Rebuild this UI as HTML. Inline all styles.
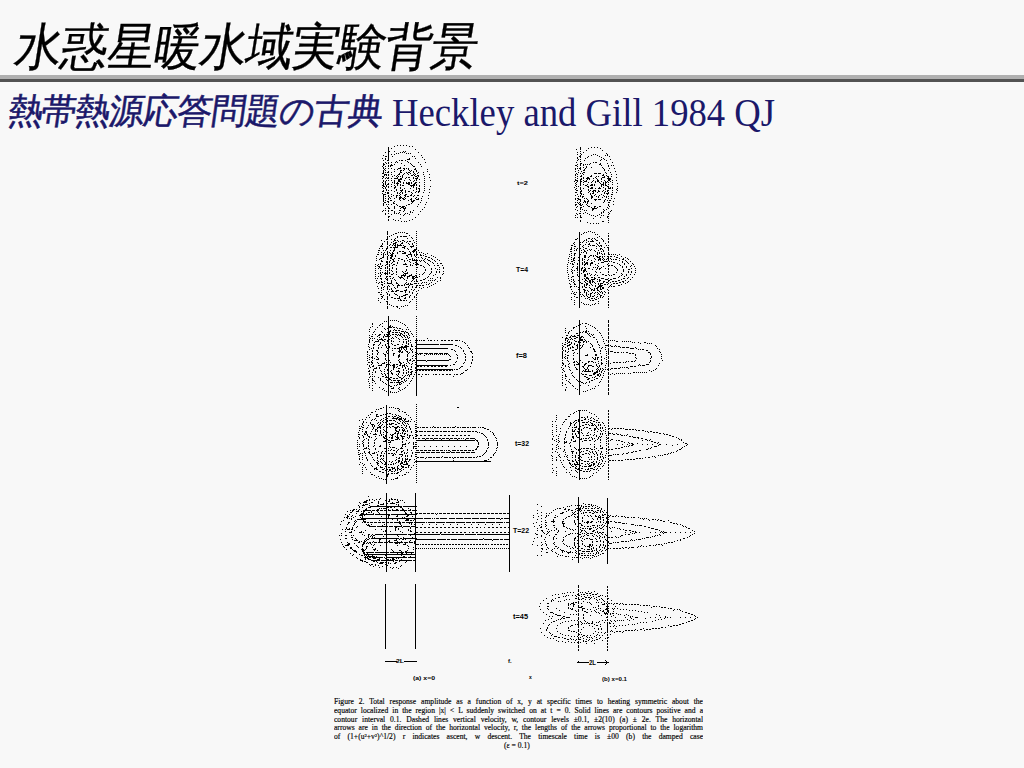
<!DOCTYPE html>
<html><head><meta charset="utf-8"><style>
html,body{margin:0;padding:0;}
body{width:1024px;height:768px;background:#f8f8f8;position:relative;overflow:hidden;font-family:"Liberation Serif",serif;}
#title{position:absolute;left:13px;top:18px;font-size:47px;line-height:60px;color:#000;white-space:nowrap;letter-spacing:-0.8px;transform-origin:0 47px;transform:skewX(-9deg) scaleY(1.07);-webkit-text-stroke:0.3px #000;}
#bar1{position:absolute;left:0;top:75px;width:1024px;height:4px;background:#b0b0b0;}
#bar2{position:absolute;left:0;top:79px;width:1024px;height:3px;background:#535353;}
#sub{position:absolute;left:5px;top:90px;font-size:35px;line-height:44px;color:#1b186a;white-space:nowrap;letter-spacing:-1.1px;transform-origin:0 100%;transform:skewX(-8deg);-webkit-text-stroke:0.55px #1b186a;}
#en{position:absolute;left:392px;top:92px;font-size:36.7px;line-height:44px;color:#1b186a;white-space:nowrap;transform-origin:0 80%;transform:scaleY(1.08);}
#cap{position:absolute;left:334px;top:698px;width:369px;font-family:"Liberation Serif",serif;font-size:7.6px;line-height:8.8px;color:#000;font-weight:normal;-webkit-text-stroke:0.15px #000;}
#cap div{height:8.8px;overflow:hidden;text-align:justify;text-align-last:justify;white-space:normal;}
#cap div.l6{text-align:left;text-align-last:left;padding-left:170px;}
</style></head><body>
<div id="title">水惑星暖水域実験背景</div>
<div id="bar1"></div><div id="bar2"></div>
<div id="sub">熱帯熱源応答問題の古典</div><div id="en">Heckley and Gill 1984 QJ</div>
<svg width="1024" height="768" style="position:absolute;left:0;top:0"><path transform="translate(0 0.5)" fill="none" stroke="#000" stroke-width="1" shape-rendering="crispEdges" d="M397 145h1M400 145h1M403 145h1M406 145h1M394 146h1M409 146h1M412 146h1M388 147h1M580 147h1M591 147h1M594 147h1M597 147h1M388 148h1M391 148h1M580 148h1M588 148h1M600 148h1M388 149h1M415 149h1M576 149h1M580 149h1M388 150h1M586 150h1M602 150h1M388 151h2M394 151h1M403 151h1M405 151h1M580 151h1M385 152h1M388 152h1M400 152h1M402 152h1M404 152h1M418 152h1M577 152h1M583 152h1M388 153h1M396 153h1M398 153h1M406 153h1M408 153h1M410 153h1M580 153h1M606 153h1M388 154h1M391 154h1M394 154h1M577 154h1M581 154h1M593 154h1M595 154h1M607 154h1M383 155h1M388 155h1M421 155h1M580 155h1M591 155h1M597 155h1M605 155h1M607 155h1M385 156h2M388 156h1M392 156h1M412 156h1M414 156h1M579 156h2M588 156h1M599 156h1M609 156h1M388 157h1M422 157h1M577 157h1M580 157h1M587 157h1M601 157h1M382 158h1M385 158h1M388 158h1M409 158h1M415 158h1M577 158h1M585 158h1M603 158h1M385 159h1M388 159h1M407 159h3M424 159h1M578 159h1M580 159h1M601 159h1M604 159h1M610 159h1M383 160h1M387 160h2M399 160h1M401 160h2M405 160h1M577 160h1M584 160h1M600 160h1M606 160h1M396 161h1M407 161h1M580 161h1M385 162h1M388 162h1M391 162h1M395 162h1M397 162h1M408 162h1M418 162h1M425 162h1M576 162h1M593 162h1M595 162h2M612 162h1M383 163h1M386 163h1M388 163h1M401 163h1M410 163h1M580 163h2M590 163h1M600 163h1M607 163h1M383 164h2M391 164h1M394 164h1M411 164h1M420 164h1M577 164h1M580 164h1M583 164h1M585 164h1M587 164h1M589 164h1M599 164h2M383 165h1M388 165h1M390 165h3M404 165h1M412 165h1M575 165h2M580 165h1M583 165h1M601 165h1M608 165h1M611 165h1M613 165h1M382 166h1M385 166h1M388 166h1M390 166h1M413 166h2M421 166h1M577 166h1M586 166h1M608 166h1M383 167h1M400 167h1M580 167h1M583 167h1M586 167h1M591 167h1M602 167h1M383 168h1M385 168h1M388 168h1M391 168h1M398 168h3M403 168h2M406 168h1M408 168h1M415 168h1M575 168h1M577 168h1M579 168h2M585 168h1M603 168h1M609 168h1M614 168h1M384 169h1M394 169h1M397 169h1M404 169h1M408 169h1M414 169h2M427 169h1M575 169h1M580 169h1M584 169h1M604 169h1M383 170h1M385 170h1M400 170h2M403 170h1M409 170h1M411 170h1M416 170h1M578 170h1M583 170h2M604 170h1M608 170h1M383 171h1M388 171h1M394 171h1M400 171h1M410 171h1M413 171h1M416 171h1M427 171h1M575 171h1M581 171h1M615 171h1M383 172h1M385 172h1M387 172h2M391 172h1M400 172h2M406 172h1M408 172h2M413 172h1M418 172h1M423 172h1M578 172h1M583 172h2M605 172h1M610 172h1M382 173h2M399 173h1M404 173h1M407 173h1M410 173h1M414 173h1M417 173h1M576 173h1M580 173h1M582 173h1M594 173h3M598 173h3M606 173h1M384 174h3M388 174h1M391 174h1M398 174h2M403 174h1M408 174h1M413 174h1M415 174h1M423 174h1M429 174h1M575 174h1M577 174h1M583 174h1M603 174h1M611 174h1M616 174h1M384 175h1M386 175h1M388 175h1M394 175h1M397 175h1M402 175h1M411 175h2M414 175h1M417 175h2M575 175h1M581 175h1M591 175h1M602 175h2M606 175h1M382 176h2M392 176h1M396 176h1M398 176h1M400 176h1M402 176h1M415 176h2M418 176h1M424 176h1M577 176h1M580 176h2M590 176h2M596 176h1M598 176h1M604 176h1M607 176h2M611 176h1M383 177h1M386 177h1M388 177h1M397 177h1M402 177h1M406 177h1M408 177h2M413 177h1M417 177h1M429 177h1M575 177h1M583 177h1M587 177h2M595 177h1M602 177h3M608 177h1M616 177h1M382 178h1M385 178h1M387 178h2M391 178h1M394 178h4M400 178h2M405 178h1M413 178h1M415 178h3M424 178h1M577 178h1M581 178h1M583 178h1M586 178h4M593 178h1M596 178h1M601 178h1M607 178h4M398 179h4M409 179h1M416 179h1M419 179h1M575 179h1M580 179h2M587 179h1M589 179h1M597 179h1M601 179h1M608 179h3M383 180h1M386 180h1M388 180h1M391 180h1M394 180h1M398 180h2M404 180h1M410 180h1M414 180h1M416 180h1M424 180h1M430 180h1M575 180h3M580 180h1M583 180h1M586 180h1M593 180h1M597 180h2M604 180h1M608 180h2M612 180h1M616 180h1M383 181h1M385 181h1M394 181h1M398 181h3M413 181h1M574 181h1M577 181h1M580 181h2M584 181h3M592 181h1M595 181h1M597 181h2M601 181h1M605 181h1M607 181h1M610 181h1M382 182h1M385 182h1M392 182h1M394 182h1M397 182h1M400 182h1M403 182h1M406 182h1M408 182h2M411 182h1M415 182h2M419 182h1M424 182h1M576 182h1M580 182h1M583 182h1M588 182h1M591 182h1M595 182h1M599 182h1M603 182h1M605 182h2M608 182h1M612 182h1M383 183h1M385 183h1M388 183h1M394 183h1M396 183h3M403 183h1M406 183h4M411 183h1M414 183h2M575 183h1M580 183h1M600 183h1M603 183h1M605 183h1M617 183h1M383 184h1M385 184h1M387 184h2M391 184h1M397 184h1M400 184h1M408 184h2M413 184h2M416 184h1M424 184h1M576 184h1M580 184h1M583 184h1M587 184h1M591 184h2M594 184h1M601 184h3M605 184h1M608 184h1M612 184h1M382 185h2M386 185h1M394 185h1M397 185h1M400 185h1M402 185h2M410 185h5M416 185h1M419 185h1M575 185h1M580 185h1M585 185h2M590 185h3M594 185h1M601 185h1M603 185h1M605 185h2M383 186h2M386 186h1M388 186h1M391 186h1M395 186h1M411 186h1M413 186h1M419 186h1M424 186h1M430 186h1M576 186h1M578 186h1M587 186h2M601 186h1M607 186h2M617 186h1M382 187h1M385 187h1M388 187h1M394 187h2M400 187h1M413 187h1M416 187h1M574 187h1M580 187h1M588 187h1M591 187h2M599 187h1M603 187h1M608 187h1M610 187h1M612 187h1M383 188h1M385 188h1M394 188h1M400 188h1M404 188h1M410 188h1M416 188h1M418 188h2M424 188h1M576 188h1M580 188h1M583 188h1M590 188h3M595 188h1M598 188h3M605 188h1M608 188h3M612 188h1M617 188h1M386 189h1M396 189h1M402 189h1M416 189h1M419 189h1M429 189h1M575 189h1M580 189h1M588 189h1M605 189h1M616 189h1M383 190h1M386 190h1M388 190h1M391 190h1M396 190h1M400 190h3M405 190h1M413 190h1M419 190h1M424 190h1M576 190h2M581 190h1M588 190h1M590 190h1M593 190h3M598 190h1M603 190h1M607 190h2M612 190h1M617 190h1M382 191h2M394 191h1M401 191h1M405 191h1M408 191h2M416 191h1M418 191h2M580 191h2M589 191h1M592 191h2M595 191h1M598 191h2M602 191h1M605 191h1M607 191h1M385 192h1M387 192h2M397 192h1M400 192h1M402 192h1M405 192h1M411 192h1M415 192h1M418 192h1M423 192h1M429 192h1M575 192h2M580 192h1M588 192h1M593 192h1M597 192h1M604 192h1M608 192h1M612 192h1M616 192h1M382 193h1M387 193h2M397 193h1M399 193h1M402 193h1M412 193h1M580 193h2M590 193h1M592 193h2M604 193h1M606 193h3M383 194h3M391 194h1M400 194h1M405 194h2M411 194h1M577 194h1M581 194h1M583 194h1M590 194h1M595 194h1M601 194h1M607 194h1M611 194h2M383 195h1M388 195h1M393 195h1M396 195h2M399 195h1M404 195h2M410 195h2M414 195h1M417 195h2M428 195h1M575 195h1M580 195h1M591 195h1M594 195h1M599 195h1M603 195h1M383 196h1M385 196h1M388 196h1M391 196h1M396 196h1M400 196h1M405 196h1M407 196h2M413 196h1M422 196h1M578 196h1M580 196h1M582 196h2M591 196h2M596 196h1M598 196h1M604 196h1M606 196h1M608 196h1M611 196h1M383 197h1M389 197h1M396 197h1M399 197h3M404 197h1M416 197h1M582 197h1M591 197h2M598 197h1M602 197h1M606 197h1M383 198h1M385 198h1M388 198h1M390 198h1M394 198h1M399 198h2M402 198h2M405 198h1M411 198h1M415 198h1M418 198h1M421 198h1M428 198h1M575 198h1M577 198h2M584 198h1M586 198h1M591 198h1M608 198h1M611 198h1M614 198h1M383 199h1M388 199h1M399 199h1M403 199h2M410 199h2M416 199h3M575 199h1M578 199h3M587 199h1M594 199h3M598 199h3M605 199h1M383 200h1M385 200h1M390 200h2M400 200h1M408 200h1M411 200h1M413 200h2M421 200h1M577 200h1M580 200h1M584 200h1M588 200h1M595 200h1M604 200h1M607 200h1M609 200h2M383 201h1M387 201h2M394 201h1M411 201h3M580 201h1M584 201h2M587 201h2M604 201h1M613 201h1M384 202h2M388 202h1M393 202h1M412 202h1M420 202h1M426 202h1M575 202h1M577 202h1M579 202h1M583 202h1M585 202h1M587 202h1M603 202h1M608 202h2M383 203h1M393 203h2M411 203h1M578 203h1M580 203h1M587 203h1M591 203h1M383 204h1M386 204h1M388 204h1M391 204h1M396 204h1M408 204h2M418 204h1M425 204h1M575 204h2M579 204h2M582 204h1M586 204h1M608 204h1M613 204h1M383 205h1M397 205h1M406 205h1M575 205h1M580 205h2M587 205h1M608 205h1M387 206h1M394 206h1M399 206h2M402 206h3M417 206h1M577 206h1M583 206h1M588 206h2M594 206h2M599 206h2M609 206h1M388 207h1M394 207h1M401 207h3M405 207h1M424 207h1M576 207h1M580 207h2M591 207h1M594 207h1M597 207h1M607 207h1M385 208h1M388 208h2M394 208h1M400 208h1M403 208h3M580 208h1M592 208h5M608 208h1M404 209h1M422 209h1M575 209h1M580 209h1M582 209h1M592 209h2M603 209h1M606 209h1M383 210h1M385 210h1M388 210h1M391 210h2M399 210h2M404 210h1M413 210h1M577 210h1M584 210h1M586 210h1M592 210h1M604 210h1M611 210h1M382 211h1M388 211h1M394 211h1M403 211h1M410 211h1M420 211h1M580 211h1M603 211h1M610 211h1M394 212h1M399 212h1M410 212h1M412 212h1M585 212h1M601 212h1M603 212h1M608 212h1M385 213h1M388 213h1M394 213h1M396 213h1M398 213h1M405 213h1M407 213h1M576 213h1M579 213h2M583 213h1M587 213h1M601 213h1M609 213h1M385 214h1M391 214h1M400 214h1M404 214h1M409 214h1M418 214h1M577 214h1M589 214h1M599 214h1M608 214h1M403 215h1M575 215h1M580 215h1M591 215h1M593 215h1M597 215h1M601 215h1M603 215h1M388 216h2M580 216h1M595 216h1M607 216h2M388 217h1M415 217h1M575 217h1M577 217h1M580 217h2M600 217h1M607 217h1M400 218h1M593 218h1M608 218h1M388 219h1M393 219h1M412 219h1M388 220h1M395 220h1M398 220h1M409 220h1M580 220h1M608 220h1M401 221h1M404 221h1M406 221h1M580 221h1M602 221h2M587 222h1M608 222h1M590 223h1M593 223h1M596 223h1M598 223h1M387 231h1M416 231h1M588 231h1M590 231h1M387 232h1M398 232h1M400 232h1M402 232h1M404 232h1M579 232h1M584 232h1M586 232h1M592 232h1M594 232h1M387 233h1M395 233h2M406 233h2M416 233h1M579 233h1M583 233h1M608 233h1M387 234h1M393 234h1M579 234h1M581 234h1M595 234h1M597 234h1M391 235h1M409 235h1M416 235h1M579 235h1M608 235h1M387 236h1M389 236h1M397 236h1M400 236h2M403 236h4M579 236h1M599 236h1M608 236h1M387 237h1M397 237h1M411 237h1M416 237h1M579 237h1M597 237h1M387 238h1M395 238h1M407 238h1M412 238h1M577 238h1M579 238h1M588 238h2M592 238h1M594 238h1M601 238h1M608 238h1M386 239h2M391 239h1M394 239h1M416 239h1M575 239h2M579 239h1M586 239h1M591 239h1M595 239h1M602 239h1M608 239h1M381 240h1M394 240h2M397 240h1M402 240h2M413 240h1M579 240h1M584 240h1M586 240h1M592 240h1M596 240h2M603 240h1M384 241h1M387 241h1M393 241h1M398 241h1M400 241h1M404 241h1M407 241h1M409 241h2M416 241h1M579 241h1M583 241h1M588 241h1M590 241h4M603 241h1M608 241h1M387 242h1M391 242h1M395 242h2M402 242h1M406 242h1M414 242h1M574 242h1M579 242h2M582 242h1M586 242h1M599 242h1M608 242h1M382 243h1M387 243h1M393 243h3M401 243h2M408 243h1M412 243h1M416 243h1M573 243h1M579 243h1M589 243h1M596 243h1M599 243h1M605 243h1M382 244h1M387 244h1M390 244h1M393 244h1M395 244h1M397 244h1M400 244h1M409 244h1M412 244h1M574 244h1M579 244h2M585 244h1M588 244h2M597 244h1M381 245h1M389 245h1M392 245h1M394 245h2M397 245h5M403 245h1M413 245h1M416 245h1M571 245h2M579 245h1M583 245h1M590 245h1M592 245h3M598 245h1M600 245h2M606 245h1M608 245h1M380 246h3M387 246h1M395 246h1M397 246h1M404 246h2M410 246h4M574 246h2M579 246h1M582 246h1M588 246h1M596 246h1M599 246h1M601 246h1M387 247h1M390 247h2M393 247h5M402 247h3M411 247h1M416 247h1M571 247h1M579 247h1M583 247h1M604 247h1M607 247h2M379 248h1M382 248h1M386 248h2M394 248h1M404 248h1M407 248h1M416 248h1M571 248h1M574 248h1M577 248h1M579 248h2M585 248h2M596 248h1M600 248h2M608 248h1M386 249h1M394 249h1M408 249h1M414 249h3M570 249h2M576 249h1M579 249h1M583 249h1M589 249h1M591 249h1M600 249h1M602 249h1M608 249h1M378 250h2M383 250h1M385 250h1M390 250h1M393 250h2M413 250h3M418 250h1M574 250h1M576 250h1M579 250h1M581 250h1M584 250h1M587 250h1M590 250h1M594 250h1M598 250h1M603 250h1M608 250h1M387 251h1M393 251h1M399 251h2M402 251h2M409 251h1M412 251h3M416 251h1M570 251h2M579 251h1M584 251h2M595 251h1M601 251h1M603 251h1M378 252h1M381 252h1M384 252h1M387 252h1M389 252h1M392 252h1M397 252h1M404 252h2M410 252h1M413 252h1M416 252h1M419 252h1M421 252h1M579 252h1M581 252h1M583 252h1M586 252h1M597 252h1M599 252h1M608 252h1M383 253h1M387 253h1M390 253h1M392 253h2M397 253h1M402 253h4M410 253h1M416 253h1M423 253h1M427 253h1M571 253h1M574 253h2M579 253h1M586 253h1M597 253h1M599 253h1M601 253h1M604 253h1M608 253h1M377 254h2M381 254h1M383 254h1M385 254h1M387 254h1M391 254h2M408 254h4M414 254h1M416 254h2M420 254h1M425 254h1M569 254h1M574 254h1M579 254h2M597 254h1M602 254h1M604 254h1M608 254h2M611 254h1M613 254h1M615 254h1M619 254h1M383 255h1M388 255h1M390 255h3M395 255h1M406 255h2M411 255h1M414 255h1M416 255h1M420 255h2M423 255h1M431 255h1M571 255h1M574 255h1M579 255h1M584 255h2M590 255h2M593 255h1M595 255h1M617 255h1M376 256h1M383 256h1M387 256h1M391 256h2M395 256h1M407 256h1M411 256h1M415 256h1M425 256h2M433 256h1M569 256h1M579 256h1M584 256h2M589 256h1M593 256h1M596 256h2M599 256h2M602 256h1M604 256h1M607 256h2M610 256h2M614 256h1M621 256h1M382 257h2M387 257h1M390 257h2M408 257h1M416 257h1M418 257h1M421 257h1M428 257h2M435 257h1M571 257h1M574 257h1M578 257h2M584 257h2M588 257h1M597 257h3M602 257h1M608 257h1M616 257h2M625 257h1M376 258h1M380 258h2M387 258h1M390 258h2M394 258h1M398 258h2M406 258h1M412 258h1M422 258h1M425 258h1M431 258h1M568 258h1M573 258h2M579 258h1M582 258h1M594 258h1M599 258h2M603 258h1M607 258h2M610 258h1M619 258h1M623 258h1M627 258h1M379 259h1M387 259h1M392 259h2M401 259h2M409 259h2M412 259h1M414 259h1M416 259h1M424 259h1M427 259h1M432 259h1M437 259h1M571 259h1M573 259h1M579 259h1M582 259h1M584 259h1M588 259h1M595 259h1M598 259h3M602 259h1M604 259h1M606 259h1M608 259h1M611 259h1M613 259h1M615 259h2M622 259h2M628 259h1M376 260h1M381 260h1M390 260h1M393 260h1M398 260h1M404 260h1M407 260h1M412 260h6M419 260h1M421 260h1M423 260h1M428 260h2M434 260h1M439 260h1M568 260h1M573 260h2M578 260h2M582 260h1M587 260h1M591 260h1M598 260h1M600 260h1M603 260h1M608 260h1M619 260h1M625 260h1M381 261h2M386 261h2M389 261h1M393 261h2M404 261h1M409 261h1M416 261h1M420 261h1M424 261h1M430 261h1M435 261h1M571 261h2M579 261h1M584 261h1M594 261h1M604 261h4M609 261h1M611 261h1M622 261h1M626 261h1M630 261h1M386 262h2M389 262h1M392 262h1M397 262h1M410 262h1M415 262h2M425 262h1M432 262h1M568 262h1M574 262h1M579 262h1M582 262h1M584 262h1M586 262h2M591 262h2M601 262h3M613 262h2M622 262h1M627 262h1M380 263h1M387 263h1M391 263h1M397 263h1M405 263h1M413 263h1M416 263h2M427 263h1M433 263h1M437 263h1M440 263h2M570 263h1M572 263h1M577 263h1M579 263h1M582 263h1M585 263h3M590 263h3M598 263h1M608 263h1M617 263h1M624 263h1M628 263h1M632 263h1M375 264h1M378 264h1M380 264h1M386 264h2M389 264h1M393 264h2M403 264h4M410 264h1M415 264h4M428 264h1M567 264h1M572 264h2M577 264h1M579 264h1M582 264h1M584 264h2M587 264h1M590 264h1M595 264h1M607 264h1M619 264h1M624 264h1M633 264h1M377 265h1M382 265h1M385 265h1M389 265h1M392 265h1M396 265h1M410 265h1M412 265h1M416 265h1M420 265h2M429 265h1M434 265h1M437 265h2M442 265h1M579 265h1M584 265h1M590 265h1M597 265h1M608 265h2M611 265h2M620 265h1M631 265h1M375 266h1M378 266h2M381 266h1M387 266h1M389 266h1M406 266h2M423 266h1M567 266h1M573 266h1M577 266h1M579 266h1M598 266h1M603 266h1M608 266h1M614 266h1M622 266h1M626 266h1M630 266h1M634 266h1M379 267h1M385 267h1M387 267h1M392 267h1M416 267h2M424 267h1M439 267h1M443 267h1M572 267h1M577 267h1M579 267h1M582 267h1M584 267h1M593 267h1M595 267h1M597 267h1M601 267h1M615 267h1M622 267h1M626 267h1M375 268h1M378 268h1M380 268h2M385 268h1M387 268h1M389 268h1M392 268h1M396 268h1M431 268h1M435 268h1M443 268h1M567 268h1M576 268h2M579 268h1M581 268h2M585 268h1M588 268h2M597 268h1M599 268h2M605 268h1M608 268h1M616 268h1M631 268h1M635 268h1M389 269h1M396 269h1M406 269h1M416 269h1M425 269h1M431 269h1M437 269h1M439 269h1M571 269h1M577 269h1M579 269h1M581 269h1M584 269h2M592 269h1M596 269h1M599 269h1M608 269h1M617 269h1M623 269h1M628 269h2M375 270h1M380 270h1M385 270h1M387 270h1M389 270h1M391 270h1M406 270h1M425 270h1M567 270h1M572 270h1M574 270h1M577 270h1M579 270h1M581 270h1M583 270h3M617 270h1M623 270h1M635 270h1M387 271h1M392 271h1M396 271h1M402 271h1M405 271h1M416 271h1M431 271h1M436 271h1M439 271h1M443 271h1M571 271h1M579 271h1M583 271h2M586 271h1M595 271h1M608 271h1M623 271h1M628 271h1M631 271h1M375 272h1M380 272h1M382 272h1M385 272h1M387 272h1M389 272h1M396 272h1M403 272h1M407 272h1M424 272h1M431 272h1M436 272h1M439 272h1M567 272h1M572 272h1M577 272h1M579 272h1M583 272h1M596 272h1M600 272h1M608 272h1M616 272h1M628 272h1M631 272h1M635 272h1M378 273h1M380 273h1M384 273h4M389 273h1M393 273h1M404 273h4M416 273h1M423 273h1M430 273h1M443 273h1M572 273h1M579 273h1M581 273h1M587 273h1M589 273h1M621 273h1M375 274h1M381 274h1M385 274h1M387 274h1M391 274h2M396 274h1M403 274h1M405 274h1M411 274h1M419 274h1M422 274h1M429 274h1M435 274h1M442 274h1M568 274h1M577 274h1M579 274h1M584 274h2M587 274h1M591 274h1M595 274h1M602 274h2M608 274h1M613 274h2M622 274h1M626 274h1M630 274h1M634 274h1M380 275h1M401 275h5M409 275h3M415 275h2M433 275h1M577 275h1M579 275h1M584 275h2M590 275h1M594 275h1M597 275h1M605 275h2M609 275h1M611 275h1M621 275h1M626 275h1M375 276h1M378 276h1M380 276h1M386 276h2M389 276h2M398 276h1M401 276h1M404 276h1M407 276h3M412 276h3M416 276h1M419 276h1M428 276h1M568 276h1M572 276h2M578 276h2M584 276h2M619 276h1M624 276h1M386 277h1M393 277h1M399 277h4M407 277h1M412 277h2M415 277h3M427 277h1M437 277h1M440 277h1M571 277h1M579 277h1M586 277h2M591 277h2M594 277h1M598 277h2M618 277h1M628 277h1M632 277h1M375 278h1M377 278h1M380 278h2M385 278h1M387 278h1M390 278h1M392 278h1M400 278h1M403 278h1M407 278h1M412 278h3M425 278h1M430 278h1M432 278h1M440 278h1M568 278h1M579 278h1M584 278h1M586 278h3M594 278h2M601 278h3M608 278h1M613 278h3M623 278h2M627 278h1M381 279h1M386 279h2M394 279h1M404 279h1M413 279h1M416 279h1M423 279h2M435 279h1M571 279h1M573 279h1M579 279h1M582 279h1M585 279h1M588 279h1M591 279h4M597 279h1M599 279h1M605 279h3M610 279h2M621 279h1M630 279h1M376 280h1M387 280h1M391 280h1M395 280h1M406 280h1M412 280h1M416 280h1M420 280h2M428 280h1M430 280h1M432 280h1M434 280h1M440 280h1M569 280h1M573 280h1M578 280h2M585 280h2M589 280h2M592 280h1M599 280h2M608 280h2M618 280h2M625 280h1M381 281h1M384 281h1M391 281h1M411 281h1M414 281h1M416 281h2M437 281h1M571 281h1M574 281h1M579 281h1M584 281h1M587 281h1M589 281h2M592 281h2M597 281h1M599 281h1M603 281h2M608 281h1M612 281h2M615 281h2M622 281h2M628 281h1M376 282h1M379 282h1M381 282h2M387 282h1M391 282h1M396 282h1M406 282h1M422 282h1M424 282h1M426 282h1M431 282h1M573 282h1M579 282h2M585 282h1M589 282h2M592 282h1M594 282h1M603 282h1M606 282h2M610 282h1M619 282h2M623 282h1M627 282h1M378 283h1M384 283h1M387 283h5M396 283h2M405 283h1M408 283h1M410 283h1M414 283h3M418 283h1M421 283h1M429 283h1M435 283h1M569 283h1M574 283h1M579 283h1M581 283h2M586 283h2M590 283h1M595 283h1M598 283h1M600 283h3M608 283h1M613 283h2M616 283h2M625 283h1M381 284h2M392 284h1M398 284h1M404 284h1M406 284h3M410 284h3M426 284h1M428 284h1M433 284h1M570 284h1M574 284h2M579 284h1M584 284h1M586 284h2M591 284h1M598 284h1M600 284h1M604 284h2M607 284h1M611 284h1M621 284h1M382 285h1M388 285h1M393 285h1M397 285h3M401 285h2M404 285h1M409 285h1M416 285h2M419 285h2M422 285h2M431 285h1M579 285h1M584 285h1M586 285h1M589 285h1M592 285h1M595 285h1M599 285h4M610 285h1M618 285h2M377 286h1M384 286h1M387 286h1M389 286h1M397 286h1M408 286h1M412 286h1M416 286h1M429 286h1M570 286h2M574 286h1M576 286h1M579 286h1M582 286h1M584 286h1M595 286h1M598 286h4M609 286h1M611 286h1M613 286h2M381 287h1M383 287h1M387 287h1M394 287h1M397 287h1M405 287h2M408 287h1M412 287h1M415 287h2M419 287h1M423 287h1M427 287h1M570 287h1M578 287h2M582 287h1M585 287h2M589 287h1M597 287h2M600 287h1M602 287h2M608 287h1M378 288h1M381 288h1M387 288h1M391 288h1M395 288h1M421 288h1M579 288h1M590 288h1M594 288h1M596 288h2M600 288h1M602 288h2M383 289h1M387 289h1M389 289h1M391 289h1M406 289h1M411 289h1M414 289h1M571 289h1M578 289h2M583 289h2M591 289h2M594 289h1M597 289h1M600 289h2M607 289h1M381 290h1M392 290h1M396 290h3M404 290h3M413 290h1M418 290h1M579 290h1M584 290h2M587 290h1M591 290h1M593 290h2M597 290h2M608 290h1M388 291h1M391 291h3M395 291h2M400 291h3M405 291h1M409 291h1M416 291h1M572 291h1M579 291h1M584 291h1M588 291h1M599 291h1M601 291h1M604 291h1M378 292h2M381 292h1M386 292h1M405 292h1M409 292h1M412 292h1M574 292h1M576 292h1M579 292h2M584 292h1M586 292h1M592 292h1M595 292h1M597 292h1M600 292h1M602 292h1M605 292h1M608 292h1M387 293h1M394 293h1M412 293h1M417 293h1M571 293h1M573 293h1M579 293h1M586 293h1M590 293h2M594 293h1M598 293h1M602 293h1M608 293h1M380 294h2M387 294h1M389 294h1M395 294h2M405 294h3M416 294h1M574 294h2M579 294h2M582 294h1M586 294h1M588 294h1M590 294h1M597 294h1M599 294h1M604 294h1M383 295h1M389 295h1M397 295h1M403 295h3M410 295h1M416 295h1M579 295h1M583 295h1M586 295h1M590 295h1M594 295h1M600 295h2M381 296h2M387 296h1M399 296h1M401 296h2M409 296h1M414 296h1M574 296h1M579 296h1M581 296h1M584 296h1M587 296h1M590 296h1M592 296h2M597 296h1M600 296h1M603 296h1M608 296h1M382 297h1M387 297h1M391 297h2M399 297h1M405 297h1M409 297h1M414 297h1M416 297h1M571 297h1M576 297h2M579 297h1M588 297h2M596 297h1M600 297h1M602 297h1M378 298h1M381 298h1M387 298h1M394 298h2M397 298h3M404 298h2M579 298h1M585 298h1M587 298h1M591 298h2M594 298h1M598 298h1M608 298h1M384 299h1M387 299h1M400 299h1M412 299h1M416 299h1M571 299h1M579 299h1M589 299h1M595 299h2M608 299h1M378 300h1M398 300h1M400 300h2M403 300h2M406 300h1M574 300h1M579 300h1M590 300h1M592 300h2M386 301h2M410 301h1M416 301h1M579 301h1M598 301h1M608 301h1M380 302h1M387 302h1M409 302h1M574 302h1M579 302h1M581 302h1M608 302h1M387 303h1M416 303h1M579 303h1M583 303h1M595 303h1M598 303h1M387 304h1M389 304h1M574 304h1M579 304h1M584 304h1M586 304h1M588 304h1M592 304h1M594 304h1M608 304h1M391 305h1M405 305h1M407 305h1M416 305h1M579 305h1M590 305h1M608 305h1M387 306h1M393 306h1M396 306h2M401 306h1M403 306h1M579 306h1M387 307h1M397 307h1M416 307h1M579 307h1M608 307h1M387 308h1M399 308h1M416 309h1M388 316h1M416 316h1M388 317h1M388 318h1M416 318h1M388 319h1M388 320h1M390 320h1M392 320h1M394 320h1M396 320h1M416 320h1M579 320h1M608 320h1M384 321h1M386 321h1M388 321h1M398 321h1M579 321h1M608 321h1M388 322h1M400 322h1M416 322h1M579 322h1M608 322h1M372 323h1M382 323h1M388 323h1M402 323h1M579 323h1M582 323h1M585 323h2M372 324h1M380 324h1M388 324h1M404 324h1M416 324h1M579 324h2M588 324h1M608 324h1M379 325h1M388 325h1M390 325h1M405 325h1M578 325h2M590 325h1M608 325h1M372 326h1M382 326h1M388 326h3M392 326h1M416 326h1M576 326h1M579 326h1M585 326h1M592 326h1M608 326h1M370 327h1M377 327h1M388 327h4M393 327h2M396 327h1M407 327h1M573 327h2M579 327h1M594 327h1M384 328h1M387 328h2M397 328h1M399 328h2M416 328h1M565 328h1M573 328h1M579 328h1M586 328h1M595 328h1M608 328h1M369 329h1M375 329h1M385 329h1M388 329h1M394 329h1M402 329h1M406 329h1M408 329h1M579 329h1M608 329h1M388 330h1M390 330h1M393 330h1M395 330h2M398 330h2M416 330h1M565 330h1M571 330h1M579 330h1M586 330h1M597 330h1M608 330h1M369 331h1M374 331h1M381 331h1M388 331h3M401 331h3M405 331h1M410 331h1M569 331h1M579 331h1M583 331h1M585 331h2M588 331h1M373 332h1M382 332h1M387 332h3M392 332h2M395 332h3M399 332h1M404 332h1M406 332h2M416 332h1M565 332h1M568 332h1M579 332h2M582 332h1M585 332h2M599 332h1M608 332h1M388 333h2M400 333h2M404 333h1M408 333h1M411 333h1M568 333h1M576 333h2M579 333h1M587 333h1M589 333h1M600 333h1M608 333h1M372 334h1M375 334h1M379 334h2M384 334h1M386 334h4M392 334h2M395 334h2M398 334h1M400 334h1M402 334h1M408 334h1M412 334h1M416 334h1M579 334h1M588 334h1M591 334h1M593 334h1M608 334h1M369 335h1M378 335h2M384 335h1M387 335h2M390 335h1M397 335h1M399 335h2M403 335h2M406 335h1M409 335h1M566 335h2M571 335h1M574 335h1M577 335h3M589 335h1M592 335h1M601 335h1M371 336h2M377 336h1M383 336h1M385 336h5M395 336h1M401 336h1M404 336h1M407 336h1M413 336h1M416 336h1M570 336h1M572 336h4M579 336h1M581 336h2M590 336h1M608 336h1M369 337h1M379 337h1M383 337h1M388 337h1M392 337h1M396 337h1M402 337h1M405 337h1M407 337h1M409 337h1M562 337h1M566 337h1M569 337h2M576 337h2M579 337h3M583 337h1M593 337h2M602 337h1M608 337h1M370 338h1M372 338h1M374 338h1M381 338h1M388 338h1M391 338h1M393 338h1M398 338h1M408 338h1M416 338h1M427 338h1M565 338h3M571 338h1M574 338h2M579 338h2M608 338h1M369 339h1M377 339h1M379 339h4M384 339h2M388 339h2M399 339h1M403 339h1M405 339h2M416 339h1M565 339h1M568 339h1M570 339h1M572 339h1M579 339h4M584 339h1M596 339h1M603 339h1M369 340h1M372 340h1M378 340h1M382 340h2M387 340h2M391 340h1M408 340h1M410 340h1M415 340h3M419 340h1M421 340h1M423 340h2M428 340h1M430 340h2M434 340h1M437 340h1M441 340h2M444 340h2M448 340h2M451 340h2M455 340h3M459 340h1M565 340h1M567 340h1M574 340h1M579 340h4M585 340h1M606 340h1M608 340h1M610 340h1M612 340h1M614 340h1M369 341h1M375 341h4M384 341h1M387 341h2M391 341h1M393 341h1M399 341h1M403 341h1M406 341h1M408 341h1M416 341h1M462 341h1M567 341h1M569 341h1M575 341h2M578 341h2M583 341h2M586 341h1M588 341h1M597 341h1M603 341h1M608 341h1M616 341h2M622 341h1M624 341h1M626 341h1M628 341h1M630 341h1M369 342h1M374 342h1M380 342h1M388 342h1M403 342h1M406 342h1M410 342h1M415 342h2M464 342h1M565 342h1M568 342h2M571 342h1M578 342h3M583 342h1M586 342h1M597 342h1M608 342h1M632 342h1M634 342h1M638 342h1M644 342h2M380 343h1M387 343h2M391 343h1M406 343h1M408 343h1M416 343h1M465 343h1M562 343h1M567 343h1M571 343h1M574 343h1M579 343h1M590 343h1M604 343h1M640 343h1M647 343h1M649 343h1M651 343h1M368 344h1M373 344h2M379 344h1M385 344h1M388 344h1M392 344h1M397 344h2M402 344h1M408 344h1M411 344h1M416 344h23M440 344h13M564 344h2M569 344h2M574 344h1M577 344h1M579 344h1M583 344h1M591 344h1M598 344h1M608 344h1M373 345h1M378 345h1M382 345h1M385 345h1M388 345h1M394 345h2M405 345h2M411 345h1M416 345h1M455 345h2M467 345h1M562 345h1M567 345h3M576 345h2M579 345h2M582 345h1M592 345h1M599 345h1M605 345h4M610 345h1M615 345h1M655 345h1M368 346h1M386 346h1M388 346h2M401 346h2M404 346h5M411 346h2M415 346h2M458 346h1M563 346h1M567 346h1M572 346h1M577 346h1M579 346h1M582 346h1M592 346h1M608 346h1M611 346h2M614 346h1M616 346h1M618 346h2M656 346h1M369 347h1M373 347h1M378 347h1M381 347h1M386 347h1M388 347h2M399 347h8M416 347h1M460 347h1M468 347h1M562 347h1M565 347h1M570 347h1M572 347h2M577 347h1M579 347h1M581 347h1M590 347h1M599 347h1M602 347h1M605 347h1M620 347h1M622 347h3M626 347h3M635 347h1M371 348h1M373 348h1M378 348h1M387 348h2M392 348h1M394 348h2M397 348h3M401 348h1M403 348h1M406 348h1M410 348h1M415 348h33M461 348h1M469 348h1M562 348h1M568 348h1M570 348h1M577 348h1M579 348h2M593 348h1M601 348h1M608 348h1M630 348h4M636 348h1M657 348h1M369 349h1M388 349h1M399 349h1M401 349h1M404 349h1M406 349h1M410 349h1M412 349h1M416 349h1M451 349h2M562 349h1M568 349h1M575 349h2M579 349h1M593 349h2M605 349h1M608 349h1M638 349h1M640 349h1M642 349h2M659 349h1M372 350h1M376 350h2M387 350h2M392 350h1M399 350h2M405 350h1M411 350h1M416 350h1M454 350h1M463 350h1M563 350h1M565 350h1M572 350h2M579 350h1M594 350h1M600 350h1M608 350h1M646 350h2M367 351h1M372 351h1M377 351h1M386 351h1M388 351h1M398 351h3M402 351h1M406 351h2M412 351h1M416 351h1M455 351h1M463 351h1M470 351h2M562 351h1M565 351h1M568 351h1M579 351h1M594 351h2M600 351h1M606 351h1M608 351h1M610 351h3M659 351h1M367 352h1M378 352h1M386 352h1M388 352h1M399 352h1M401 352h2M407 352h1M409 352h1M412 352h1M415 352h2M471 352h1M562 352h1M567 352h1M574 352h1M579 352h1M608 352h1M614 352h2M617 352h2M621 352h1M623 352h1M626 352h2M648 352h2M660 352h1M372 353h1M377 353h1M383 353h1M387 353h2M393 353h2M408 353h1M416 353h2M419 353h4M424 353h4M429 353h4M434 353h4M439 353h4M444 353h4M464 353h1M472 353h1M562 353h1M573 353h1M577 353h1M579 353h1M600 353h1M606 353h1M608 353h1M629 353h2M632 353h2M650 353h1M367 354h1M372 354h1M377 354h1M384 354h2M388 354h1M393 354h1M399 354h1M407 354h1M415 354h2M418 354h1M420 354h1M426 354h1M428 354h1M430 354h1M432 354h1M434 354h1M436 354h1M438 354h1M440 354h1M442 354h1M444 354h1M446 354h1M448 354h1M456 354h1M465 354h1M562 354h1M565 354h1M579 354h1M587 354h1M595 354h2M608 354h1M635 354h1M650 354h1M661 354h1M369 355h1M385 355h1M388 355h1M393 355h1M398 355h2M407 355h1M413 355h1M416 355h1M424 355h1M449 355h1M457 355h1M562 355h1M567 355h2M573 355h1M579 355h1M585 355h3M595 355h2M606 355h1M635 355h1M367 356h1M372 356h1M376 356h1M385 356h1M388 356h1M398 356h2M407 356h1M412 356h1M415 356h2M450 356h1M465 356h1M472 356h1M562 356h1M565 356h1M579 356h1M601 356h1M608 356h1M651 356h1M661 356h1M369 357h1M371 357h2M377 357h1M388 357h1M398 357h1M416 357h1M457 357h1M465 357h1M472 357h1M562 357h1M564 357h1M567 357h1M579 357h1M592 357h1M595 357h1M597 357h2M601 357h1M606 357h1M608 357h1M635 357h1M651 357h1M367 358h1M372 358h1M374 358h1M378 358h1M385 358h1M388 358h1M407 358h1M412 358h1M415 358h2M457 358h1M562 358h1M565 358h1M567 358h1M573 358h1M579 358h1M593 358h1M595 358h1M597 358h1M604 358h1M608 358h1M636 358h1M650 358h1M661 358h1M369 359h1M376 359h3M385 359h1M388 359h1M399 359h1M406 359h2M410 359h1M416 359h1M449 359h2M465 359h1M472 359h1M573 359h1M579 359h1M594 359h2M597 359h1M601 359h1M606 359h1M367 360h1M372 360h1M386 360h1M388 360h2M398 360h1M407 360h1M409 360h2M413 360h2M416 360h10M427 360h22M465 360h1M472 360h1M562 360h1M567 360h1M579 360h2M601 360h1M608 360h1M635 360h1M650 360h1M662 360h1M371 361h1M388 361h1M399 361h1M407 361h1M412 361h1M416 361h1M426 361h1M456 361h1M568 361h1M574 361h1M576 361h1M579 361h1M588 361h2M591 361h2M598 361h1M606 361h1M608 361h1M626 361h1M628 361h1M631 361h2M634 361h1M650 361h1M368 362h2M371 362h2M377 362h1M384 362h1M386 362h1M388 362h1M390 362h1M399 362h2M403 362h1M408 362h1M415 362h2M455 362h1M464 362h1M471 362h1M562 362h1M573 362h2M577 362h1M579 362h1M582 362h1M588 362h1M593 362h1M595 362h1M601 362h1M608 362h1M613 362h2M616 362h2M619 362h2M623 362h1M625 362h1M649 362h1M372 363h1M378 363h1M382 363h3M388 363h1M400 363h2M406 363h1M409 363h1M412 363h1M416 363h1M463 363h1M471 363h1M562 363h2M569 363h1M578 363h2M585 363h2M598 363h1M601 363h2M606 363h1M608 363h1M610 363h1M659 363h1M367 364h1M371 364h1M381 364h1M386 364h4M393 364h2M396 364h2M400 364h1M404 364h1M411 364h1M415 364h2M453 364h2M563 364h1M568 364h1M574 364h1M576 364h4M584 364h2M596 364h1M601 364h1M608 364h1M639 364h1M646 364h3M369 365h1M373 365h1M378 365h4M386 365h1M388 365h1M390 365h1M392 365h3M399 365h2M402 365h3M406 365h1M416 365h32M450 365h1M562 365h1M565 365h1M574 365h1M579 365h1M584 365h1M588 365h4M596 365h1M599 365h1M605 365h1M608 365h1M638 365h1M640 365h1M642 365h3M658 365h1M369 366h1M372 366h2M386 366h1M388 366h1M393 366h2M397 366h1M402 366h1M404 366h1M407 366h1M411 366h1M416 366h3M420 366h2M424 366h1M427 366h2M431 366h2M434 366h2M438 366h2M441 366h2M445 366h2M461 366h2M470 366h1M565 366h1M568 366h1M579 366h1M582 366h2M588 366h1M592 366h2M597 366h1M599 366h1M608 366h1M630 366h3M634 366h2M370 367h1M376 367h1M379 367h1M385 367h1M388 367h1M393 367h2M396 367h1M402 367h1M405 367h1M411 367h1M415 367h2M460 367h1M561 367h1M569 367h1M575 367h1M579 367h1M583 367h1M587 367h1M598 367h1M605 367h1M620 367h1M622 367h1M624 367h1M626 367h2M368 368h1M374 368h3M379 368h1M388 368h1M393 368h1M398 368h2M405 368h1M408 368h1M415 368h2M459 368h1M563 368h1M576 368h1M579 368h1M584 368h1M587 368h1M597 368h1M600 368h1M602 368h1M608 368h1M611 368h2M614 368h3M618 368h2M628 368h1M656 368h1M373 369h1M384 369h1M387 369h2M393 369h1M403 369h1M408 369h1M410 369h2M416 369h37M454 369h1M456 369h2M467 369h1M562 369h1M569 369h1M576 369h2M579 369h1M585 369h2M588 369h1M596 369h1M598 369h1M600 369h1M603 369h1M605 369h1M607 369h2M610 369h1M655 369h1M369 370h1M373 370h1M380 370h1M387 370h2M391 370h1M398 370h1M403 370h1M406 370h1M415 370h3M419 370h2M422 370h2M425 370h2M428 370h2M431 370h2M434 370h2M437 370h1M439 370h3M443 370h2M446 370h2M449 370h2M452 370h1M465 370h2M563 370h1M570 370h1M579 370h1M583 370h1M585 370h1M588 370h1M592 370h1M597 370h1M599 370h1M602 370h1M608 370h1M649 370h1M653 370h1M368 371h2M375 371h1M381 371h1M384 371h1M388 371h1M390 371h1M396 371h4M408 371h1M411 371h2M416 371h1M564 371h1M579 371h1M582 371h1M584 371h7M592 371h1M596 371h2M599 371h1M601 371h1M604 371h1M651 371h1M372 372h1M375 372h1M388 372h1M391 372h1M399 372h1M403 372h1M406 372h1M408 372h1M410 372h2M415 372h2M463 372h1M562 372h1M572 372h1M579 372h1M594 372h4M601 372h1M608 372h1M633 372h2M636 372h1M638 372h1M640 372h1M642 372h1M644 372h1M646 372h1M369 373h1M381 373h1M384 373h1M387 373h2M391 373h2M398 373h1M403 373h1M406 373h1M411 373h1M416 373h1M461 373h2M571 373h1M579 373h1M581 373h1M593 373h3M599 373h1M603 373h1M608 373h1M612 373h1M616 373h1M618 373h1M620 373h1M622 373h1M624 373h1M628 373h1M630 373h1M369 374h1M372 374h1M382 374h1M385 374h1M388 374h1M392 374h1M396 374h1M398 374h1M408 374h1M410 374h2M414 374h1M416 374h1M418 374h2M422 374h1M425 374h2M428 374h1M433 374h1M435 374h2M439 374h1M442 374h2M446 374h2M449 374h2M454 374h1M456 374h2M460 374h1M565 374h1M579 374h1M582 374h2M585 374h2M593 374h2M597 374h2M600 374h1M608 374h1M610 374h1M614 374h1M385 375h1M388 375h1M397 375h1M402 375h1M405 375h1M407 375h1M409 375h1M416 375h1M562 375h1M565 375h1M572 375h1M579 375h1M589 375h3M597 375h2M600 375h1M603 375h1M370 376h1M372 376h1M374 376h1M382 376h2M386 376h1M388 376h1M398 376h1M404 376h1M409 376h1M413 376h1M416 376h1M421 376h1M453 376h1M565 376h2M573 376h1M579 376h1M584 376h2M595 376h1M599 376h1M608 376h1M369 377h1M378 377h1M385 377h4M390 377h2M399 377h2M403 377h1M416 377h1M562 377h1M574 377h1M579 377h1M586 377h2M592 377h1M594 377h1M602 377h1M608 377h1M372 378h1M380 378h1M388 378h2M393 378h2M396 378h2M401 378h2M406 378h1M408 378h1M412 378h1M416 378h1M565 378h1M579 378h1M588 378h2M596 378h2M608 378h1M368 379h1M372 379h1M380 379h1M386 379h1M388 379h3M401 379h1M404 379h1M416 379h1M562 379h1M569 379h1M576 379h1M579 379h1M587 379h2M594 379h1M601 379h1M372 380h2M380 380h1M387 380h2M391 380h1M393 380h3M397 380h3M404 380h1M406 380h1M411 380h1M416 380h1M566 380h1M577 380h1M579 380h1M591 380h2M608 380h1M368 381h1M374 381h1M382 381h1M388 381h1M398 381h1M401 381h2M405 381h1M410 381h1M416 381h1M568 381h1M578 381h3M589 381h1M600 381h1M608 381h1M372 382h1M383 382h1M388 382h1M390 382h3M394 382h1M396 382h5M403 382h1M416 382h1M562 382h1M569 382h1M579 382h1M581 382h2M586 382h1M589 382h1M599 382h1M608 382h1M369 383h1M375 383h1M385 383h1M388 383h1M399 383h1M401 383h1M409 383h1M416 383h1M562 383h1M570 383h1M579 383h1M583 383h1M585 383h1M386 384h1M388 384h1M397 384h1M399 384h2M416 384h1M565 384h1M579 384h1M608 384h1M369 385h1M372 385h1M388 385h2M394 385h1M396 385h1M407 385h1M416 385h1M562 385h1M572 385h1M579 385h2M588 385h1M598 385h1M608 385h1M388 386h1M390 386h2M416 386h1M573 386h1M579 386h1M595 386h1M608 386h1M369 387h1M379 387h1M388 387h1M393 387h1M399 387h1M405 387h1M416 387h1M566 387h1M579 387h1M372 388h1M383 388h1M388 388h1M391 388h3M398 388h1M404 388h1M416 388h1M575 388h1M579 388h1M592 388h1M594 388h1M608 388h1M382 389h1M388 389h1M399 389h1M402 389h1M416 389h1M565 389h1M577 389h1M579 389h1M590 389h1M608 389h1M372 390h1M384 390h1M388 390h1M400 390h1M416 390h1M565 390h1M579 390h1M587 390h1M608 390h1M386 391h1M388 391h1M390 391h1M398 391h1M416 391h1M579 391h1M583 391h1M585 391h1M388 392h1M390 392h1M392 392h1M394 392h1M396 392h1M416 392h1M579 392h1M608 392h1M388 393h1M416 393h1M579 393h1M608 393h1M388 394h1M416 394h1M579 394h1M608 394h1M388 395h1M416 395h1M416 404h1M386 405h1M386 406h1M416 406h1M383 407h1M386 407h1M389 407h1M391 407h1M393 407h1M457 407h2M380 408h2M386 408h1M395 408h1M397 408h2M416 408h1M376 409h1M378 409h1M386 409h1M399 409h1M386 410h1M398 410h1M416 410h1M578 410h3M582 410h1M584 410h1M586 410h1M608 410h1M375 411h1M386 411h1M399 411h1M402 411h1M576 411h1M579 411h1M608 411h1M371 412h2M386 412h1M404 412h2M416 412h1M574 412h1M579 412h1M589 412h1M386 413h2M389 413h2M573 413h1M579 413h1M591 413h1M608 413h1M370 414h1M376 414h2M383 414h1M385 414h2M392 414h1M395 414h1M406 414h1M416 414h1M570 414h1M579 414h1M594 414h1M608 414h1M368 415h1M376 415h1M380 415h2M386 415h1M396 415h1M398 415h1M408 415h1M556 415h1M579 415h1M376 416h3M386 416h1M388 416h2M392 416h1M394 416h2M399 416h2M416 416h1M568 416h2M579 416h1M587 416h1M596 416h1M608 416h1M366 417h1M369 417h1M385 417h2M393 417h1M397 417h2M401 417h1M410 417h1M556 417h1M579 417h1M581 417h2M584 417h1M587 417h1M591 417h1M608 417h1M375 418h1M383 418h1M386 418h2M392 418h6M399 418h3M403 418h1M405 418h1M416 418h1M579 418h1M585 418h1M590 418h1M593 418h1M598 418h1M362 419h1M365 419h1M372 419h1M374 419h1M381 419h1M385 419h2M396 419h1M398 419h4M404 419h2M411 419h1M556 419h1M565 419h2M578 419h2M584 419h2M588 419h1M594 419h1M608 419h1M359 420h1M371 420h1M376 420h1M380 420h1M383 420h1M386 420h2M389 420h3M393 420h2M399 420h1M402 420h1M404 420h1M408 420h1M416 420h1M575 420h2M578 420h2M581 420h2M590 420h2M596 420h2M608 420h1M363 421h1M382 421h1M386 421h2M395 421h1M400 421h1M403 421h1M405 421h4M410 421h1M414 421h1M552 421h1M555 421h1M564 421h1M574 421h1M578 421h2M588 421h1M593 421h2M363 422h1M366 422h1M370 422h1M378 422h1M380 422h1M383 422h1M385 422h2M397 422h1M402 422h1M404 422h1M416 422h1M563 422h1M570 422h1M573 422h1M576 422h1M579 422h1M582 422h3M586 422h2M590 422h1M596 422h1M598 422h2M602 422h1M608 422h1M362 423h1M370 423h1M377 423h1M380 423h1M386 423h1M389 423h1M391 423h3M398 423h2M402 423h1M405 423h1M407 423h1M570 423h2M575 423h1M579 423h1M591 423h2M603 423h1M608 423h1M362 424h1M371 424h3M379 424h1M382 424h1M386 424h2M389 424h3M395 424h2M403 424h1M408 424h1M415 424h2M552 424h1M562 424h1M570 424h1M574 424h1M579 424h1M585 424h2M588 424h1M592 424h1M594 424h1M598 424h1M600 424h1M363 425h1M368 425h1M372 425h1M374 425h1M378 425h1M381 425h1M386 425h1M401 425h1M404 425h1M406 425h1M556 425h1M570 425h1M574 425h1M579 425h1M582 425h2M589 425h1M591 425h3M595 425h1M598 425h1M600 425h1M604 425h1M608 425h1M359 426h1M361 426h1M372 426h1M374 426h1M379 426h2M384 426h1M386 426h1M389 426h1M392 426h2M397 426h2M406 426h1M409 426h1M415 426h2M433 426h1M455 426h1M552 426h1M569 426h1M576 426h1M579 426h2M596 426h1M608 426h1M362 427h2M367 427h1M373 427h1M377 427h4M383 427h1M386 427h2M390 427h1M394 427h4M399 427h1M401 427h2M405 427h1M409 427h1M417 427h2M420 427h1M422 427h3M426 427h2M430 427h1M432 427h1M434 427h2M437 427h2M440 427h1M443 427h3M447 427h2M450 427h1M452 427h3M457 427h2M460 427h1M462 427h4M467 427h2M470 427h1M472 427h4M478 427h1M480 427h1M482 427h2M556 427h1M572 427h1M574 427h3M579 427h1M584 427h1M586 427h2M596 427h1M600 427h1M602 427h1M605 427h1M359 428h2M366 428h1M373 428h1M377 428h1M380 428h1M386 428h1M395 428h2M403 428h1M406 428h1M410 428h1M415 428h2M484 428h2M560 428h1M568 428h1M578 428h2M583 428h1M589 428h2M594 428h2M597 428h1M600 428h1M602 428h1M608 428h2M612 428h1M614 428h2M617 428h2M620 428h2M623 428h1M362 429h1M372 429h1M375 429h2M383 429h1M386 429h1M395 429h1M399 429h1M402 429h1M404 429h1M410 429h1M487 429h2M556 429h1M572 429h1M575 429h1M578 429h2M581 429h1M594 429h2M598 429h1M605 429h1M608 429h1M611 429h1M625 429h3M629 429h2M632 429h2M635 429h1M359 430h1M375 430h1M377 430h1M380 430h1M384 430h1M386 430h1M395 430h2M399 430h1M402 430h3M407 430h1M415 430h2M552 430h1M572 430h1M574 430h1M579 430h1M581 430h1M591 430h1M594 430h1M600 430h1M603 430h1M636 430h1M638 430h2M642 430h2M362 431h1M365 431h2M371 431h1M375 431h1M377 431h1M380 431h1M385 431h2M396 431h3M403 431h1M405 431h1M407 431h1M411 431h1M416 431h2M419 431h4M424 431h2M427 431h4M432 431h2M435 431h4M440 431h2M443 431h4M448 431h2M451 431h4M456 431h2M459 431h1M461 431h2M464 431h2M467 431h4M472 431h2M475 431h2M490 431h1M556 431h1M560 431h1M566 431h1M572 431h3M577 431h3M597 431h1M601 431h1M605 431h1M608 431h1M645 431h1M647 431h1M650 431h2M358 432h1M365 432h2M380 432h1M383 432h1M386 432h2M395 432h1M398 432h1M402 432h1M411 432h1M415 432h2M477 432h1M479 432h1M492 432h1M552 432h1M566 432h1M578 432h2M581 432h1M588 432h1M594 432h1M608 432h1M648 432h1M653 432h2M656 432h2M364 433h1M366 433h1M370 433h1M375 433h1M380 433h1M386 433h1M394 433h2M397 433h2M400 433h1M402 433h1M404 433h2M481 433h2M493 433h1M572 433h1M575 433h1M578 433h2M582 433h1M587 433h1M600 433h1M602 433h1M605 433h1M608 433h3M612 433h1M616 433h1M659 433h2M663 433h1M358 434h2M364 434h2M367 434h1M373 434h4M381 434h1M383 434h1M386 434h1M390 434h1M392 434h2M397 434h1M404 434h1M407 434h1M415 434h2M483 434h1M493 434h1M552 434h1M559 434h1M565 434h1M572 434h1M575 434h1M579 434h1M590 434h1M594 434h1M600 434h1M602 434h1M608 434h1M613 434h2M617 434h2M620 434h1M627 434h1M664 434h1M666 434h2M362 435h1M367 435h1M379 435h1M381 435h1M385 435h2M391 435h2M397 435h1M400 435h2M407 435h1M409 435h2M412 435h1M416 435h2M420 435h2M424 435h2M428 435h2M432 435h2M436 435h2M440 435h2M444 435h2M448 435h2M452 435h2M456 435h2M460 435h2M464 435h2M468 435h2M484 435h1M494 435h1M556 435h1M565 435h1M576 435h1M579 435h1M583 435h1M586 435h3M593 435h1M596 435h1M606 435h1M608 435h1M621 435h2M624 435h1M626 435h1M669 435h2M358 436h1M363 436h1M368 436h2M375 436h1M383 436h1M385 436h2M392 436h1M395 436h1M397 436h1M401 436h4M409 436h1M415 436h2M485 436h1M553 436h1M558 436h1M572 436h2M576 436h1M579 436h1M596 436h1M599 436h1M601 436h1M629 436h2M632 436h1M672 436h2M359 437h1M363 437h1M369 437h1M371 437h1M383 437h2M386 437h1M389 437h1M391 437h2M396 437h3M402 437h1M407 437h1M409 437h1M413 437h1M486 437h1M495 437h1M565 437h1M572 437h2M577 437h3M589 437h1M591 437h1M598 437h1M600 437h1M606 437h1M608 437h1M633 437h3M637 437h2M676 437h1M359 438h1M366 438h1M376 438h1M384 438h3M391 438h2M397 438h2M402 438h2M408 438h1M413 438h1M415 438h2M418 438h2M422 438h3M426 438h3M430 438h3M434 438h4M439 438h2M442 438h3M446 438h3M450 438h3M454 438h3M458 438h2M461 438h1M463 438h1M466 438h3M470 438h5M496 438h1M552 438h1M558 438h1M564 438h1M573 438h1M579 438h1M581 438h1M583 438h1M585 438h2M588 438h1M592 438h1M594 438h1M598 438h1M607 438h2M638 438h1M641 438h2M678 438h1M364 439h1M368 439h1M375 439h1M386 439h2M395 439h3M399 439h1M402 439h1M425 439h1M433 439h1M441 439h1M449 439h1M457 439h1M465 439h1M475 439h1M487 439h1M552 439h1M556 439h1M564 439h1M571 439h1M579 439h3M592 439h1M597 439h1M600 439h1M606 439h1M611 439h2M645 439h2M650 439h1M679 439h1M681 439h1M357 440h1M363 440h1M368 440h1M374 440h1M385 440h2M388 440h2M391 440h3M406 440h1M416 440h59M476 440h2M487 440h1M496 440h1M554 440h1M558 440h1M571 440h1M575 440h1M579 440h1M584 440h3M589 440h2M595 440h1M600 440h1M608 440h1M610 440h1M616 440h1M618 440h2M642 440h1M647 440h1M649 440h1M681 440h1M362 441h1M383 441h4M390 441h1M402 441h1M477 441h1M556 441h1M559 441h1M564 441h1M566 441h1M573 441h3M579 441h1M582 441h1M594 441h1M606 441h1M608 441h1M621 441h2M651 441h2M357 442h1M363 442h1M368 442h1M374 442h1M386 442h1M388 442h3M402 442h1M409 442h1M413 442h1M415 442h2M478 442h1M488 442h1M497 442h1M558 442h1M564 442h3M570 442h1M579 442h1M600 442h1M624 442h1M628 442h1M654 442h2M658 442h1M683 442h1M362 443h1M368 443h1M374 443h1M386 443h1M405 443h1M408 443h1M413 443h1M478 443h1M488 443h1M497 443h1M564 443h1M569 443h1M579 443h1M606 443h1M608 443h1M629 443h1M631 443h2M637 443h1M657 443h1M685 443h2M357 444h1M359 444h1M363 444h1M386 444h1M389 444h1M402 444h4M413 444h1M415 444h2M478 444h1M488 444h1M497 444h1M552 444h1M557 444h1M579 444h1M590 444h1M594 444h1M608 444h1M617 444h1M622 444h1M627 444h1M632 444h2M642 444h1M647 444h1M652 444h1M659 444h2M666 444h1M677 444h1M687 444h1M363 445h1M368 445h1M374 445h1M380 445h1M386 445h1M402 445h1M488 445h1M497 445h1M556 445h1M570 445h1M579 445h1M600 445h1M606 445h1M629 445h1M631 445h2M658 445h1M672 445h1M686 445h1M357 446h1M359 446h1M363 446h1M368 446h1M373 446h1M379 446h2M386 446h1M389 446h1M402 446h1M405 446h1M413 446h4M418 446h1M424 446h1M430 446h1M436 446h1M442 446h1M448 446h1M454 446h1M460 446h1M466 446h1M477 446h2M558 446h1M564 446h1M570 446h1M579 446h1M594 446h1M600 446h1M608 446h1M624 446h1M626 446h1M628 446h1M654 446h3M684 446h1M366 447h1M386 447h1M390 447h1M392 447h3M401 447h1M413 447h1M477 447h1M488 447h1M497 447h1M556 447h1M574 447h1M579 447h1M594 447h1M602 447h1M608 447h1M621 447h2M651 447h1M682 447h1M357 448h1M364 448h3M368 448h1M375 448h1M384 448h3M388 448h1M396 448h1M400 448h3M413 448h1M415 448h2M476 448h1M487 448h1M496 448h1M552 448h1M558 448h1M560 448h1M575 448h1M579 448h1M581 448h1M583 448h2M586 448h3M590 448h1M596 448h1M600 448h3M606 448h1M615 448h2M618 448h2M648 448h1M650 448h1M681 448h1M363 449h1M369 449h1M375 449h1M386 449h1M391 449h1M398 449h1M407 449h1M475 449h2M552 449h1M556 449h1M564 449h1M571 449h1M576 449h1M578 449h3M591 449h2M594 449h1M606 449h1M608 449h2M611 449h2M646 449h2M679 449h2M358 450h2M386 450h1M388 450h1M390 450h1M393 450h2M397 450h1M403 450h1M407 450h1M411 450h1M416 450h3M420 450h3M424 450h3M428 450h3M432 450h3M436 450h3M440 450h3M444 450h1M446 450h1M448 450h2M452 450h4M457 450h2M460 450h3M464 450h3M468 450h3M472 450h2M486 450h1M496 450h1M564 450h1M578 450h2M586 450h2M598 450h1M608 450h1M639 450h2M677 450h1M364 451h1M369 451h1M378 451h1M382 451h1M385 451h2M396 451h1M401 451h2M450 451h1M486 451h1M555 451h1M563 451h1M571 451h3M579 451h1M581 451h1M583 451h1M589 451h1M592 451h1M595 451h1M601 451h1M606 451h1M633 451h1M635 451h2M676 451h1M358 452h1M364 452h1M368 452h2M374 452h1M376 452h1M381 452h1M386 452h1M396 452h1M401 452h1M404 452h1M407 452h1M412 452h1M415 452h5M421 452h4M426 452h4M431 452h4M436 452h4M441 452h4M446 452h4M451 452h4M456 452h4M461 452h4M466 452h4M471 452h4M485 452h1M495 452h1M552 452h1M557 452h1M565 452h1M572 452h1M576 452h1M579 452h2M590 452h1M592 452h1M596 452h1M601 452h1M608 452h1M628 452h1M631 452h2M671 452h1M673 452h1M360 453h1M362 453h1M365 453h1M369 453h1M372 453h3M381 453h1M384 453h1M386 453h1M388 453h2M391 453h2M394 453h1M404 453h1M406 453h1M412 453h1M484 453h1M494 453h1M572 453h1M576 453h1M579 453h1M585 453h2M588 453h1M593 453h1M596 453h1M600 453h1M606 453h1M608 453h1M623 453h1M626 453h2M668 453h1M670 453h1M358 454h2M370 454h1M377 454h1M386 454h1M393 454h1M395 454h1M399 454h4M415 454h2M483 454h1M493 454h1M559 454h1M565 454h1M579 454h1M582 454h2M589 454h1M594 454h1M597 454h1M600 454h1M602 454h1M613 454h1M615 454h1M617 454h2M622 454h1M664 454h2M667 454h1M362 455h1M365 455h1M371 455h1M377 455h1M380 455h2M383 455h1M386 455h1M392 455h2M402 455h1M405 455h1M407 455h1M411 455h1M482 455h1M493 455h1M551 455h1M558 455h1M567 455h1M572 455h1M575 455h1M578 455h2M597 455h1M605 455h1M608 455h4M658 455h1M660 455h1M662 455h1M359 456h1M380 456h1M383 456h1M386 456h1M401 456h1M405 456h1M407 456h1M411 456h1M415 456h2M442 456h1M477 456h1M479 456h2M552 456h1M559 456h1M564 456h1M566 456h1M575 456h1M579 456h2M591 456h1M594 456h1M600 456h1M602 456h1M608 456h1M652 456h1M654 456h1M362 457h1M366 457h1M372 457h1M377 457h1M386 457h1M396 457h1M399 457h1M417 457h2M420 457h4M426 457h1M428 457h4M433 457h2M436 457h4M441 457h1M444 457h4M449 457h2M452 457h1M454 457h2M457 457h2M460 457h4M465 457h2M468 457h4M473 457h2M476 457h1M490 457h2M556 457h1M560 457h1M567 457h1M572 457h1M575 457h1M578 457h2M581 457h1M588 457h1M591 457h1M597 457h1M600 457h1M603 457h1M605 457h1M645 457h1M648 457h2M655 457h1M359 458h1M366 458h1M377 458h1M381 458h1M383 458h1M386 458h1M398 458h2M402 458h1M405 458h1M407 458h1M416 458h1M425 458h1M453 458h1M552 458h1M578 458h2M597 458h1M603 458h1M608 458h1M636 458h2M639 458h2M642 458h1M359 459h1M362 459h1M367 459h1M373 459h1M380 459h1M382 459h1M386 459h1M396 459h1M402 459h1M405 459h3M409 459h2M414 459h1M488 459h1M556 459h1M567 459h1M575 459h1M579 459h2M589 459h1M591 459h1M594 459h1M597 459h1M601 459h1M608 459h1M625 459h1M627 459h2M630 459h2M633 459h2M367 460h1M374 460h1M377 460h1M383 460h1M386 460h1M395 460h1M398 460h2M402 460h1M405 460h1M409 460h1M416 460h1M453 460h1M484 460h3M552 460h1M556 460h1M560 460h1M563 460h1M568 460h2M572 460h1M575 460h1M578 460h2M581 460h2M599 460h1M602 460h1M609 460h2M612 460h2M615 460h1M618 460h2M621 460h2M378 461h1M380 461h1M384 461h1M386 461h1M389 461h1M392 461h1M398 461h2M401 461h1M404 461h3M408 461h1M415 461h76M572 461h2M576 461h1M579 461h1M584 461h2M587 461h2M593 461h1M596 461h1M602 461h1M605 461h1M608 461h1M360 462h1M376 462h2M381 462h1M385 462h2M391 462h1M396 462h1M398 462h1M401 462h2M404 462h1M406 462h1M414 462h1M416 462h1M561 462h1M569 462h1M576 462h2M579 462h1M591 462h2M596 462h1M599 462h1M608 462h1M362 463h1M370 463h1M377 463h2M382 463h1M385 463h2M393 463h1M395 463h1M400 463h3M406 463h2M569 463h2M574 463h1M577 463h1M579 463h1M581 463h2M587 463h1M589 463h1M593 463h2M598 463h1M601 463h1M604 463h1M359 464h1M364 464h1M377 464h1M384 464h3M388 464h1M390 464h2M393 464h1M400 464h1M403 464h5M416 464h1M552 464h1M562 464h1M570 464h1M572 464h1M574 464h6M585 464h1M588 464h1M591 464h1M593 464h2M598 464h1M600 464h1M608 464h1M363 465h1M371 465h1M378 465h1M386 465h1M398 465h1M401 465h1M408 465h2M413 465h1M571 465h1M575 465h1M579 465h2M589 465h3M593 465h1M597 465h1M603 465h1M608 465h1M372 466h1M380 466h1M385 466h2M397 466h1M401 466h3M408 466h1M416 466h1M563 466h1M572 466h2M576 466h1M579 466h1M582 466h1M584 466h3M588 466h3M595 466h1M598 466h2M602 466h1M362 467h1M365 467h1M376 467h1M380 467h3M386 467h1M388 467h2M391 467h2M394 467h1M397 467h1M402 467h2M405 467h2M408 467h1M411 467h1M556 467h1M564 467h1M570 467h1M575 467h1M579 467h1M594 467h1M608 467h1M374 468h3M384 468h1M386 468h1M392 468h3M397 468h2M401 468h1M416 468h1M552 468h1M575 468h2M578 468h2M581 468h2M588 468h1M590 468h3M597 468h1M600 468h1M608 468h1M362 469h1M366 469h1M374 469h1M376 469h2M382 469h2M386 469h2M389 469h2M392 469h1M395 469h1M397 469h1M399 469h2M403 469h1M410 469h1M566 469h1M577 469h3M585 469h1M587 469h2M593 469h2M596 469h1M385 470h2M389 470h2M395 470h1M397 470h1M401 470h1M416 470h1M553 470h1M571 470h1M575 470h1M579 470h3M590 470h1M598 470h1M608 470h1M362 471h1M379 471h2M386 471h1M388 471h1M391 471h2M394 471h1M400 471h1M556 471h1M576 471h1M579 471h1M583 471h2M586 471h2M589 471h1M608 471h1M370 472h1M382 472h2M386 472h1M397 472h2M406 472h1M408 472h1M416 472h1M552 472h1M566 472h1M569 472h1M577 472h1M579 472h1M596 472h1M362 473h1M386 473h1M388 473h1M391 473h2M394 473h1M396 473h2M556 473h1M579 473h1M593 473h1M608 473h1M371 474h2M386 474h3M404 474h2M416 474h1M570 474h1M579 474h1M608 474h1M374 475h1M386 475h2M399 475h1M402 475h1M556 475h1M579 475h1M592 475h1M378 476h1M386 476h2M416 476h1M572 476h1M574 476h1M579 476h1M590 476h1M608 476h1M376 477h1M386 477h1M397 477h1M576 477h1M579 477h1M589 477h1M608 477h1M379 478h1M381 478h1M386 478h1M395 478h3M416 478h1M579 478h2M582 478h1M584 478h1M586 478h1M383 479h1M385 479h2M391 479h1M393 479h1M579 479h1M608 479h1M386 480h1M416 480h1M386 481h1M386 482h1M416 482h1M386 483h1M386 493h1M415 493h1M386 494h1M415 494h1M386 495h1M415 495h1M509 495h1M368 496h1M386 496h1M415 496h1M509 496h1M386 497h1M415 497h1M509 497h1M578 497h1M380 498h1M386 498h1M391 498h1M415 498h1M509 498h1M578 498h1M607 498h1M369 499h1M372 499h1M376 499h1M379 499h1M386 499h1M389 499h1M391 499h2M394 499h2M397 499h1M415 499h1M509 499h1M578 499h1M607 499h1M366 500h2M369 500h1M374 500h1M385 500h2M389 500h1M397 500h1M400 500h1M402 500h1M415 500h1M509 500h1M578 500h1M607 500h1M364 501h3M378 501h1M386 501h1M388 501h2M398 501h1M415 501h1M509 501h1M578 501h1M607 501h1M359 502h1M363 502h4M371 502h2M378 502h1M386 502h1M392 502h1M396 502h3M404 502h1M415 502h1M509 502h1M578 502h1M607 502h1M360 503h1M369 503h1M378 503h1M383 503h1M386 503h2M390 503h5M415 503h1M509 503h1M578 503h1M583 503h1M607 503h1M363 504h1M365 504h3M380 504h4M386 504h1M396 504h1M398 504h1M415 504h1M509 504h1M537 504h1M578 504h1M585 504h1M588 504h2M591 504h1M607 504h1M358 505h1M362 505h3M369 505h1M377 505h2M386 505h1M398 505h1M415 505h1M509 505h1M571 505h1M575 505h1M577 505h3M581 505h1M591 505h1M593 505h1M595 505h1M607 505h1M359 506h1M370 506h32M403 506h14M509 506h1M541 506h1M567 506h1M569 506h1M578 506h1M581 506h1M583 506h1M585 506h2M588 506h2M592 506h1M597 506h1M607 506h1M359 507h1M362 507h1M368 507h3M386 507h3M390 507h2M394 507h1M400 507h2M415 507h1M509 507h1M563 507h1M578 507h1M580 507h1M583 507h1M595 507h1M599 507h1M607 507h1M366 508h1M379 508h1M381 508h1M383 508h4M402 508h1M408 508h1M415 508h1M509 508h1M557 508h1M559 508h2M565 508h1M576 508h5M582 508h1M585 508h2M588 508h1M591 508h2M594 508h1M597 508h2M601 508h1M607 508h1M353 509h2M356 509h1M359 509h1M365 509h2M377 509h2M386 509h1M388 509h1M392 509h1M396 509h2M402 509h2M410 509h1M415 509h1M509 509h1M555 509h1M564 509h2M568 509h2M575 509h1M578 509h3M601 509h1M607 509h1M350 510h1M352 510h2M358 510h1M363 510h8M372 510h3M376 510h3M380 510h3M384 510h3M388 510h3M392 510h7M400 510h7M408 510h3M412 510h5M509 510h1M537 510h1M553 510h1M568 510h1M571 510h2M577 510h3M581 510h1M584 510h1M587 510h3M591 510h2M597 510h2M600 510h1M604 510h1M607 510h1M347 511h1M352 511h1M356 511h3M361 511h1M363 511h2M371 511h1M377 511h1M386 511h1M404 511h1M415 511h1M509 511h1M566 511h1M575 511h1M578 511h1M580 511h1M593 511h1M595 511h1M600 511h1M602 511h1M607 511h1M350 512h2M363 512h1M368 512h2M371 512h1M378 512h1M386 512h1M405 512h1M410 512h2M415 512h1M509 512h1M541 512h1M551 512h1M562 512h2M572 512h1M574 512h1M578 512h1M583 512h1M585 512h2M589 512h2M594 512h1M596 512h2M600 512h1M603 512h1M606 512h2M356 513h1M361 513h3M366 513h1M373 513h1M379 513h1M386 513h1M405 513h2M411 513h1M415 513h3M419 513h3M423 513h3M427 513h3M431 513h3M435 513h1M437 513h1M439 513h3M443 513h3M447 513h3M451 513h3M455 513h3M459 513h3M463 513h3M467 513h3M471 513h3M475 513h3M479 513h3M483 513h3M487 513h3M491 513h3M495 513h3M499 513h3M503 513h3M507 513h3M537 513h1M546 513h1M549 513h1M560 513h3M573 513h1M577 513h2M581 513h1M583 513h1M592 513h2M607 513h1M345 514h1M349 514h1M360 514h14M375 514h15M391 514h26M436 514h1M509 514h1M572 514h1M574 514h2M578 514h1M602 514h1M604 514h2M607 514h1M347 515h1M352 515h1M359 515h4M364 515h1M386 515h1M388 515h2M397 515h1M407 515h2M415 515h1M509 515h1M533 515h1M541 515h1M546 515h1M548 515h1M555 515h1M571 515h1M578 515h1M584 515h1M587 515h1M590 515h1M595 515h1M599 515h1M602 515h2M607 515h2M610 515h1M616 515h1M347 516h2M351 516h1M355 516h1M362 516h1M381 516h1M386 516h1M388 516h1M396 516h2M406 516h2M412 516h1M415 516h1M509 516h1M538 516h1M546 516h1M557 516h1M568 516h2M574 516h1M577 516h2M588 516h1M591 516h1M595 516h2M598 516h1M600 516h1M607 516h1M609 516h1M612 516h2M615 516h1M618 516h1M621 516h2M624 516h1M344 517h1M346 517h2M353 517h1M360 517h1M362 517h1M386 517h1M388 517h1M402 517h1M404 517h1M415 517h1M509 517h1M533 517h1M545 517h1M554 517h2M566 517h1M575 517h1M577 517h2M582 517h1M598 517h3M602 517h2M606 517h3M625 517h1M627 517h2M631 517h1M633 517h2M638 517h1M347 518h1M349 518h1M351 518h1M361 518h62M424 518h7M432 518h1M434 518h1M436 518h3M440 518h7M449 518h6M456 518h7M464 518h7M472 518h7M480 518h7M488 518h7M496 518h4M501 518h2M504 518h6M541 518h1M565 518h1M578 518h1M582 518h1M592 518h1M597 518h1M600 518h1M606 518h2M640 518h1M642 518h1M644 518h1M646 518h1M351 519h1M357 519h9M386 519h1M392 519h1M397 519h1M406 519h3M414 519h2M500 519h1M509 519h1M537 519h1M553 519h1M563 519h1M577 519h2M593 519h1M597 519h1M600 519h1M603 519h1M607 519h2M643 519h1M648 519h1M652 519h2M655 519h1M658 519h1M343 520h1M355 520h1M363 520h1M379 520h1M386 520h1M397 520h1M405 520h4M410 520h2M413 520h1M415 520h1M509 520h1M545 520h1M553 520h1M574 520h1M578 520h1M582 520h1M603 520h1M607 520h1M649 520h1M657 520h1M660 520h2M668 520h1M341 521h1M354 521h1M356 521h1M363 521h3M386 521h1M399 521h1M415 521h1M509 521h1M541 521h1M551 521h4M562 521h2M574 521h1M578 521h1M582 521h1M587 521h2M591 521h2M598 521h1M600 521h1M606 521h3M610 521h2M614 521h1M663 521h2M348 522h2M355 522h1M362 522h1M364 522h2M367 522h2M370 522h3M374 522h3M378 522h3M382 522h3M386 522h3M390 522h3M394 522h7M402 522h3M406 522h7M414 522h11M426 522h1M428 522h7M436 522h9M446 522h9M456 522h9M466 522h5M472 522h3M476 522h9M486 522h9M496 522h7M504 522h1M506 522h4M536 522h1M545 522h2M553 522h1M562 522h1M574 522h1M578 522h1M584 522h1M586 522h3M590 522h2M596 522h1M600 522h1M603 522h1M606 522h3M615 522h2M618 522h3M670 522h2M348 523h1M354 523h1M386 523h1M399 523h2M409 523h1M411 523h1M415 523h1M509 523h1M533 523h1M562 523h3M575 523h1M578 523h3M587 523h1M605 523h1M607 523h2M622 523h3M626 523h1M673 523h2M676 523h1M340 524h1M347 524h1M354 524h1M366 524h1M368 524h1M371 524h1M384 524h1M386 524h1M400 524h1M411 524h1M414 524h2M422 524h1M429 524h1M436 524h1M443 524h1M450 524h1M457 524h1M464 524h1M471 524h1M478 524h1M485 524h1M492 524h1M499 524h1M509 524h1M541 524h1M545 524h1M563 524h1M575 524h1M578 524h1M581 524h1M602 524h1M607 524h1M631 524h3M677 524h1M680 524h1M353 525h1M367 525h3M382 525h1M386 525h1M401 525h1M415 525h1M509 525h1M539 525h1M546 525h1M553 525h2M563 525h1M578 525h1M581 525h2M592 525h3M597 525h1M599 525h1M601 525h1M604 525h1M607 525h1M635 525h1M637 525h1M639 525h3M682 525h1M357 526h1M369 526h7M377 526h11M389 526h4M394 526h8M403 526h7M411 526h5M509 526h1M534 526h1M541 526h1M545 526h1M563 526h2M577 526h2M584 526h1M587 526h2M590 526h1M597 526h1M603 526h1M606 526h2M644 526h2M683 526h1M685 526h1M346 527h1M352 527h1M356 527h1M386 527h1M395 527h2M402 527h1M410 527h1M415 527h3M420 527h2M424 527h2M428 527h2M432 527h2M436 527h2M440 527h2M444 527h2M448 527h2M452 527h2M456 527h2M460 527h2M464 527h2M468 527h2M472 527h1M476 527h2M480 527h1M484 527h1M488 527h2M492 527h2M496 527h2M500 527h2M504 527h2M508 527h2M540 527h2M554 527h1M566 527h1M578 527h1M580 527h1M593 527h1M595 527h1M599 527h1M602 527h1M607 527h1M609 527h1M612 527h1M614 527h1M648 527h2M686 527h1M346 528h1M349 528h1M352 528h1M386 528h1M395 528h1M398 528h1M410 528h1M415 528h1M509 528h1M537 528h1M546 528h1M556 528h1M567 528h1M569 528h1M578 528h1M582 528h2M585 528h1M587 528h1M589 528h3M597 528h1M600 528h2M607 528h1M610 528h1M617 528h1M619 528h1M651 528h3M688 528h2M342 529h1M345 529h1M347 529h3M351 529h2M375 529h1M381 529h1M386 529h1M395 529h1M398 529h1M408 529h1M415 529h1M509 529h1M548 529h1M556 529h1M570 529h1M572 529h1M575 529h1M578 529h1M580 529h1M589 529h2M596 529h1M603 529h1M607 529h1M620 529h1M623 529h1M655 529h3M354 530h1M365 530h1M385 530h2M395 530h1M408 530h1M410 530h1M415 530h1M509 530h1M537 530h1M541 530h2M551 530h1M554 530h1M558 530h1M573 530h1M578 530h1M581 530h2M584 530h1M593 530h2M607 530h1M625 530h2M629 530h2M659 530h1M692 530h1M345 531h1M351 531h1M361 531h1M383 531h1M385 531h2M390 531h1M400 531h1M410 531h2M415 531h1M509 531h1M542 531h1M547 531h1M549 531h1M558 531h1M565 531h1M578 531h1M581 531h1M585 531h1M592 531h2M597 531h1M607 531h1M611 531h1M632 531h2M635 531h1M661 531h1M663 531h1M694 531h1M349 532h3M359 532h3M363 532h1M386 532h1M402 532h1M415 532h3M420 532h2M424 532h2M428 532h2M432 532h2M436 532h2M440 532h2M444 532h2M448 532h2M452 532h2M456 532h2M460 532h2M464 532h2M469 532h1M472 532h2M476 532h2M480 532h2M484 532h2M488 532h2M492 532h2M496 532h2M500 532h2M504 532h2M508 532h2M543 532h1M548 532h1M557 532h1M578 532h1M580 532h1M586 532h1M595 532h1M597 532h1M599 532h2M602 532h2M607 532h1M625 532h1M630 532h1M635 532h2M639 532h1M650 532h1M655 532h1M660 532h1M662 532h1M664 532h3M670 532h1M675 532h1M680 532h1M685 532h1M690 532h1M341 533h1M386 533h1M414 533h2M440 533h1M509 533h1M535 533h1M544 533h1M547 533h1M570 533h1M572 533h1M575 533h1M577 533h2M582 533h1M584 533h1M587 533h2M590 533h3M598 533h1M601 533h1M607 533h1M632 533h1M634 533h1M663 533h1M694 533h1M362 534h1M368 534h2M372 534h1M375 534h8M384 534h23M408 534h32M441 534h23M465 534h11M477 534h33M536 534h2M546 534h1M555 534h2M568 534h2M578 534h3M586 534h1M594 534h1M602 534h1M605 534h1M607 534h1M625 534h1M628 534h2M659 534h1M692 534h1M339 535h1M341 535h1M345 535h2M351 535h1M353 535h1M364 535h1M368 535h1M371 535h1M373 535h2M386 535h1M397 535h1M410 535h1M415 535h1M509 535h1M541 535h1M549 535h1M566 535h1M578 535h1M584 535h1M587 535h2M592 535h1M596 535h1M599 535h1M606 535h2M621 535h2M655 535h1M657 535h1M660 535h1M690 535h1M368 536h1M370 536h1M372 536h1M383 536h1M386 536h1M398 536h1M415 536h1M509 536h1M541 536h1M554 536h1M565 536h1M577 536h2M581 536h1M583 536h1M593 536h1M597 536h1M600 536h1M604 536h1M607 536h1M615 536h1M620 536h1M652 536h1M654 536h1M689 536h1M351 537h2M368 537h1M372 537h1M374 537h1M386 537h1M403 537h1M412 537h1M415 537h1M509 537h1M537 537h1M545 537h1M553 537h1M563 537h1M575 537h1M578 537h1M580 537h1M599 537h1M602 537h1M604 537h1M607 537h3M611 537h2M616 537h1M618 537h1M646 537h3M650 537h1M687 537h1M345 538h2M355 538h1M366 538h1M369 538h1M371 538h28M400 538h2M403 538h14M483 538h1M509 538h1M534 538h1M553 538h1M556 538h1M574 538h2M578 538h1M582 538h1M586 538h2M589 538h1M595 538h1M599 538h1M607 538h1M642 538h1M644 538h1M683 538h2M340 539h1M352 539h1M356 539h1M365 539h1M367 539h2M379 539h2M386 539h1M396 539h1M399 539h1M402 539h2M405 539h1M415 539h21M437 539h9M447 539h3M451 539h6M458 539h20M479 539h4M484 539h8M493 539h6M500 539h3M504 539h6M544 539h1M553 539h1M563 539h1M574 539h1M578 539h1M584 539h1M590 539h3M596 539h1M605 539h1M607 539h1M631 539h1M636 539h1M638 539h3M680 539h1M354 540h4M364 540h1M366 540h1M379 540h1M386 540h1M389 540h1M394 540h3M410 540h1M415 540h1M492 540h1M509 540h1M563 540h1M574 540h1M577 540h2M581 540h1M600 540h1M606 540h2M630 540h1M632 540h1M634 540h1M677 540h1M680 540h1M359 541h1M361 541h1M364 541h2M373 541h1M379 541h1M386 541h1M388 541h2M397 541h1M401 541h1M409 541h1M414 541h2M509 541h1M533 541h1M545 541h1M562 541h1M578 541h1M582 541h1M592 541h1M596 541h2M600 541h1M603 541h1M607 541h2M621 541h3M625 541h2M628 541h1M674 541h1M341 542h1M347 542h1M358 542h2M363 542h2M367 542h1M369 542h2M372 542h1M374 542h3M378 542h5M384 542h4M389 542h4M394 542h9M404 542h4M409 542h4M414 542h2M509 542h1M541 542h1M554 542h1M574 542h1M578 542h1M592 542h1M603 542h1M607 542h2M613 542h1M615 542h1M617 542h2M668 542h2M671 542h2M348 543h2M354 543h1M363 543h2M366 543h1M368 543h1M370 543h1M386 543h1M395 543h3M399 543h1M405 543h1M414 543h2M509 543h1M545 543h1M553 543h1M563 543h1M574 543h1M577 543h2M582 543h1M607 543h1M609 543h3M664 543h1M666 543h1M342 544h1M347 544h3M362 544h2M371 544h1M374 544h1M386 544h1M403 544h3M415 544h4M420 544h1M422 544h2M425 544h2M428 544h2M431 544h2M434 544h2M437 544h2M440 544h2M443 544h2M446 544h2M449 544h2M452 544h2M455 544h2M458 544h2M461 544h2M464 544h2M467 544h2M470 544h2M473 544h2M476 544h2M479 544h2M482 544h2M485 544h2M488 544h1M491 544h2M494 544h2M497 544h2M500 544h2M503 544h2M506 544h2M509 544h1M532 544h1M542 544h1M546 544h1M554 544h1M564 544h1M574 544h1M578 544h1M582 544h1M589 544h2M592 544h1M600 544h1M603 544h1M607 544h1M656 544h1M658 544h2M661 544h1M345 545h4M356 545h1M362 545h1M373 545h1M380 545h1M386 545h1M397 545h1M407 545h1M415 545h1M509 545h1M537 545h1M541 545h1M546 545h1M566 545h1M574 545h1M578 545h1M584 545h1M589 545h2M592 545h1M596 545h1M600 545h1M603 545h1M605 545h1M607 545h2M641 545h1M649 545h2M653 545h1M655 545h1M662 545h1M343 546h1M357 546h1M362 546h1M366 546h2M386 546h1M408 546h1M415 546h1M509 546h1M555 546h2M567 546h1M569 546h1M575 546h1M578 546h2M585 546h1M587 546h3M591 546h1M599 546h1M605 546h1M607 546h1M638 546h1M640 546h1M643 546h1M646 546h1M344 547h1M350 547h2M358 547h1M366 547h1M372 547h1M386 547h1M413 547h1M415 547h1M509 547h1M547 547h1M558 547h1M572 547h1M575 547h1M578 547h1M589 547h1M593 547h1M599 547h1M602 547h1M604 547h1M607 547h1M622 547h1M625 547h2M629 547h1M631 547h3M637 547h1M350 548h2M362 548h1M366 548h1M375 548h1M386 548h1M408 548h1M415 548h2M418 548h1M420 548h1M422 548h1M424 548h1M426 548h1M428 548h1M430 548h1M432 548h1M434 548h1M436 548h1M438 548h1M440 548h1M442 548h1M444 548h1M446 548h1M448 548h1M450 548h1M452 548h1M454 548h1M456 548h1M458 548h1M460 548h1M462 548h1M464 548h1M468 548h1M470 548h1M472 548h1M474 548h1M476 548h1M478 548h1M480 548h1M482 548h1M484 548h1M486 548h1M488 548h1M490 548h1M492 548h1M494 548h1M496 548h1M498 548h1M500 548h1M502 548h1M504 548h1M506 548h1M508 548h2M541 548h2M548 548h1M554 548h1M557 548h1M570 548h1M573 548h1M577 548h2M581 548h2M591 548h1M593 548h1M596 548h1M604 548h1M607 548h2M610 548h1M613 548h2M616 548h2M619 548h2M623 548h1M628 548h1M346 549h1M352 549h1M361 549h3M365 549h1M373 549h3M386 549h1M391 549h1M413 549h1M415 549h1M509 549h1M542 549h1M546 549h1M552 549h1M560 549h1M578 549h1M584 549h1M587 549h3M591 549h1M596 549h1M600 549h1M606 549h2M353 550h3M362 550h3M374 550h1M377 550h1M386 550h1M392 550h1M399 550h2M407 550h1M415 550h1M509 550h1M551 550h1M561 550h3M575 550h1M578 550h3M592 550h1M594 550h1M596 550h1M599 550h1M602 550h1M605 550h1M607 550h1M354 551h3M362 551h2M386 551h1M393 551h1M401 551h1M405 551h2M415 551h1M509 551h1M541 551h1M552 551h1M562 551h1M564 551h1M566 551h1M570 551h1M576 551h1M578 551h1M582 551h3M586 551h4M591 551h2M597 551h1M601 551h1M607 551h1M356 552h1M363 552h2M366 552h8M375 552h14M390 552h14M405 552h9M415 552h1M509 552h1M546 552h2M555 552h1M562 552h1M567 552h4M572 552h1M575 552h1M578 552h1M596 552h1M598 552h1M607 552h1M350 553h1M363 553h2M367 553h1M386 553h1M397 553h1M401 553h2M406 553h1M411 553h1M415 553h1M509 553h1M556 553h1M568 553h1M576 553h1M578 553h2M581 553h2M584 553h1M588 553h1M590 553h1M593 553h1M596 553h1M598 553h1M602 553h2M607 553h1M353 554h1M359 554h1M364 554h52M509 554h1M558 554h1M578 554h2M595 554h1M600 554h1M607 554h1M352 555h1M361 555h2M364 555h1M366 555h1M368 555h1M372 555h1M385 555h2M401 555h1M415 555h1M509 555h1M537 555h1M541 555h1M560 555h1M562 555h1M575 555h1M578 555h1M581 555h2M584 555h2M587 555h2M590 555h1M592 555h2M598 555h1M607 555h1M365 556h1M367 556h8M376 556h1M386 556h1M403 556h2M410 556h1M415 556h1M509 556h1M557 556h1M565 556h2M568 556h1M578 556h1M594 556h1M596 556h1M607 556h1M356 557h1M364 557h4M369 557h2M372 557h11M384 557h1M386 557h21M408 557h8M509 557h1M572 557h1M574 557h1M576 557h3M580 557h1M584 557h1M586 557h1M588 557h1M592 557h1M607 557h1M357 558h1M365 558h1M367 558h2M373 558h3M379 558h1M385 558h2M392 558h2M396 558h1M398 558h1M415 558h1M509 558h1M578 558h1M582 558h1M590 558h1M607 558h1M360 559h1M365 559h1M368 559h3M377 559h3M386 559h3M390 559h1M392 559h3M401 559h1M415 559h1M509 559h1M572 559h1M578 559h1M607 559h1M360 560h3M371 560h9M381 560h13M395 560h3M399 560h13M413 560h3M509 560h1M578 560h1M607 560h1M362 561h1M364 561h2M373 561h2M376 561h1M386 561h1M393 561h1M399 561h1M406 561h1M415 561h1M509 561h1M578 561h1M607 561h1M366 562h2M377 562h1M380 562h4M385 562h2M388 562h1M395 562h2M405 562h1M415 562h1M509 562h1M578 562h1M607 562h1M379 563h4M386 563h1M388 563h1M390 563h1M394 563h2M415 563h1M509 563h1M607 563h1M369 564h1M371 564h2M375 564h1M385 564h2M415 564h1M509 564h1M370 565h1M375 565h1M378 565h1M386 565h2M401 565h1M415 565h1M509 565h1M373 566h1M382 566h1M386 566h1M400 566h1M415 566h1M509 566h1M379 567h1M386 567h1M390 567h1M393 567h1M396 567h1M415 567h1M509 567h1M386 568h1M392 568h1M398 568h1M415 568h1M509 568h1M386 569h1M415 569h1M509 569h1M386 570h1M415 570h1M509 570h1M386 571h1M415 571h1M509 571h1M385 584h1M415 584h1M385 585h1M415 585h1M578 585h1M385 586h1M415 586h1M578 586h1M607 586h1M385 587h1M415 587h1M578 587h1M607 587h1M385 588h1M415 588h1M385 589h1M415 589h1M578 589h1M607 589h1M385 590h1M415 590h1M578 590h1M607 590h1M385 591h1M415 591h1M578 591h1M588 591h1M594 591h1M385 592h1M415 592h1M567 592h1M570 592h1M573 592h1M580 592h1M582 592h1M585 592h1M591 592h1M607 592h1M385 593h1M415 593h1M562 593h1M564 593h1M578 593h1M586 593h2M589 593h2M597 593h1M607 593h1M385 594h1M415 594h1M555 594h1M558 594h1M577 594h2M581 594h1M583 594h2M592 594h2M595 594h2M385 595h1M415 595h1M552 595h1M566 595h1M568 595h1M572 595h1M575 595h1M578 595h2M587 595h1M590 595h1M600 595h1M602 595h1M607 595h1M385 596h1M415 596h1M563 596h1M565 596h1M576 596h1M581 596h1M584 596h1M593 596h1M598 596h2M605 596h1M607 596h1M385 597h1M415 597h1M558 597h2M578 597h1M585 597h2M588 597h2M591 597h1M596 597h1M385 598h1M415 598h1M546 598h1M555 598h1M575 598h2M578 598h1M582 598h2M590 598h1M594 598h1M601 598h1M607 598h2M385 599h1M415 599h1M552 599h1M566 599h1M569 599h1M578 599h2M581 599h1M585 599h1M589 599h1M596 599h1M599 599h1M602 599h1M607 599h1M385 600h1M415 600h1M543 600h1M551 600h1M553 600h1M564 600h1M597 600h1M603 600h1M611 600h1M385 601h1M415 601h1M551 601h1M558 601h1M560 601h1M578 601h1M583 601h1M604 601h1M607 601h1M385 602h1M415 602h1M573 602h1M575 602h2M578 602h1M587 602h1M589 602h1M596 602h1M598 602h1M601 602h1M607 602h1M385 603h1M415 603h1M540 603h1M547 603h2M568 603h1M571 603h3M578 603h1M581 603h1M590 603h1M604 603h1M606 603h1M608 603h2M611 603h1M614 603h1M616 603h2M620 603h1M622 603h1M385 604h1M415 604h1M568 604h1M570 604h1M573 604h2M591 604h1M602 604h3M607 604h1M613 604h1M619 604h1M623 604h1M625 604h2M629 604h1M631 604h2M634 604h2M637 604h2M385 605h1M415 605h1M568 605h1M573 605h1M578 605h1M598 605h1M607 605h1M640 605h1M643 605h2M646 605h2M649 605h1M385 606h1M415 606h1M539 606h1M547 606h2M573 606h1M578 606h1M581 606h2M598 606h1M606 606h3M615 606h1M653 606h2M656 606h1M659 606h1M385 607h1M415 607h1M568 607h1M578 607h4M593 607h1M595 607h1M607 607h1M651 607h1M661 607h2M664 607h2M385 608h1M415 608h1M547 608h1M556 608h1M568 608h1M570 608h1M572 608h1M582 608h3M598 608h1M600 608h1M606 608h3M612 608h1M614 608h1M617 608h1M668 608h1M670 608h2M385 609h1M415 609h1M540 609h1M548 609h1M571 609h2M578 609h1M582 609h1M587 609h1M590 609h1M596 609h1M605 609h3M613 609h1M620 609h1M623 609h1M626 609h1M674 609h1M677 609h1M679 609h1M385 610h1M415 610h1M559 610h1M575 610h1M578 610h1M582 610h1M594 610h1M600 610h1M603 610h1M607 610h2M629 610h1M632 610h1M635 610h1M673 610h1M680 610h1M385 611h1M415 611h1M576 611h1M578 611h1M584 611h2M591 611h1M595 611h1M602 611h2M607 611h2M613 611h1M638 611h1M641 611h1M682 611h1M385 612h1M415 612h1M543 612h1M550 612h3M564 612h1M586 612h2M596 612h1M598 612h1M604 612h1M606 612h1M608 612h1M644 612h1M647 612h1M685 612h2M385 613h1M415 613h1M553 613h1M578 613h1M599 613h1M604 613h4M610 613h1M612 613h2M616 613h1M688 613h2M385 614h1M415 614h1M546 614h1M555 614h2M570 614h1M573 614h1M576 614h1M578 614h1M583 614h1M605 614h1M607 614h1M610 614h1M618 614h1M620 614h1M626 614h1M656 614h1M691 614h2M385 615h1M415 615h1M557 615h4M578 615h1M583 615h1M590 615h1M601 615h1M613 615h1M624 615h1M628 615h1M659 615h1M694 615h1M385 616h1M415 616h1M549 616h1M552 616h1M563 616h2M607 616h1M611 616h1M630 616h1M632 616h1M665 616h1M695 616h1M385 617h1M415 617h1M562 617h1M566 617h4M578 617h1M583 617h1M606 617h2M615 617h1M625 617h1M630 617h1M635 617h3M650 617h1M655 617h1M660 617h1M665 617h1M667 617h1M670 617h1M680 617h1M685 617h1M690 617h1M697 617h1M385 618h1M415 618h1M551 618h1M561 618h1M563 618h2M578 618h1M583 618h1M631 618h1M645 618h1M664 618h1M695 618h1M385 619h1M415 619h1M548 619h1M558 619h1M560 619h1M578 619h1M607 619h1M627 619h1M633 619h1M658 619h1M661 619h1M694 619h1M385 620h1M415 620h1M545 620h1M556 620h1M571 620h1M574 620h1M577 620h1M584 620h1M602 620h1M605 620h1M607 620h1M610 620h1M614 620h1M617 620h1M619 620h1M621 620h1M623 620h1M629 620h1M655 620h1M691 620h2M385 621h1M415 621h1M553 621h2M565 621h1M568 621h1M578 621h1M580 621h1M585 621h1M592 621h1M599 621h1M611 621h1M615 621h1M652 621h1M688 621h2M385 622h1M415 622h1M551 622h1M562 622h1M578 622h1M581 622h1M587 622h1M592 622h1M596 622h1M598 622h1M604 622h1M607 622h1M609 622h1M640 622h1M643 622h1M646 622h1M686 622h1M385 623h1M415 623h1M543 623h1M560 623h1M578 623h1M582 623h1M584 623h1M586 623h1M588 623h2M591 623h2M607 623h1M609 623h2M613 623h1M637 623h1M682 623h2M385 624h1M415 624h1M549 624h1M575 624h1M577 624h2M581 624h1M594 624h1M600 624h1M607 624h1M628 624h1M632 624h1M634 624h1M679 624h2M385 625h1M415 625h1M548 625h1M557 625h1M571 625h2M578 625h1M589 625h1M596 625h2M607 625h1M614 625h1M619 625h1M622 625h1M625 625h1M668 625h1M673 625h2M676 625h2M385 626h1M415 626h1M570 626h1M578 626h1M592 626h1M600 626h1M607 626h1M610 626h1M613 626h1M616 626h1M670 626h2M385 627h1M415 627h1M547 627h1M568 627h1M578 627h1M583 627h1M607 627h1M661 627h2M665 627h1M385 628h1M415 628h1M540 628h1M547 628h1M556 628h1M568 628h1M594 628h1M598 628h1M601 628h1M607 628h1M615 628h1M643 628h1M652 628h2M655 628h2M658 628h2M385 629h1M415 629h1M546 629h1M578 629h1M581 629h1M598 629h1M601 629h1M607 629h1M635 629h1M640 629h2M646 629h2M649 629h2M385 630h1M415 630h1M546 630h1M568 630h2M578 630h1M607 630h1M611 630h1M625 630h2M628 630h2M631 630h2M634 630h1M637 630h1M644 630h1M385 631h1M415 631h1M557 631h1M571 631h1M573 631h2M578 631h1M595 631h1M607 631h1M610 631h1M612 631h1M616 631h2M619 631h2M623 631h1M385 632h1M415 632h1M541 632h1M549 632h1M576 632h1M580 632h1M598 632h1M601 632h1M605 632h1M607 632h1M614 632h1M622 632h1M385 633h1M415 633h1M550 633h1M560 633h1M578 633h1M593 633h1M604 633h1M385 634h1M415 634h1M552 634h1M562 634h1M578 634h2M581 634h1M597 634h1M607 634h1M610 634h1M385 635h1M415 635h1M544 635h1M551 635h1M565 635h1M568 635h1M578 635h1M583 635h2M587 635h1M590 635h1M596 635h1M599 635h1M602 635h1M607 635h1M385 636h1M415 636h1M554 636h3M571 636h1M574 636h1M577 636h1M582 636h1M586 636h1M594 636h1M385 637h1M415 637h1M547 637h1M558 637h2M562 637h1M578 637h1M580 637h1M587 637h1M589 637h1M591 637h1M596 637h1M600 637h1M607 637h2M385 638h1M415 638h1M550 638h1M553 638h1M564 638h2M570 638h1M578 638h1M583 638h1M592 638h1M599 638h1M605 638h1M607 638h1M385 639h1M415 639h1M567 639h2M571 639h1M573 639h1M576 639h1M578 639h3M586 639h1M589 639h1M596 639h2M385 640h1M415 640h1M556 640h1M575 640h1M583 640h1M588 640h1M592 640h1M594 640h1M602 640h1M607 640h1M385 641h1M415 641h1M558 641h1M562 641h1M568 641h1M578 641h1M583 641h1M585 641h2M591 641h1M607 641h1M385 642h1M415 642h1M565 642h1M571 642h1M574 642h1M577 642h2M580 642h1M385 643h1M415 643h1M578 643h1M586 643h1M594 643h1M607 643h1M385 644h1M415 644h1M607 644h1M385 645h1M415 645h1M578 645h1M385 646h1M415 646h1M578 646h1M607 646h1M385 647h1M415 647h1M578 647h1M607 647h1M385 648h1M415 648h1M578 649h1M607 649h1M578 650h1M607 650h1M605 660h1M385 661h12M404 661h13M578 661h1M606 661h1M577 662h12M597 662h12M606 663h1M605 664h1"/><g font-family="Liberation Sans" font-weight="bold" fill="#000"><text x="517" y="184.5" font-size="6" textLength="11" lengthAdjust="spacingAndGlyphs">t=2</text><text x="516" y="271.5" font-size="7" textLength="12" lengthAdjust="spacingAndGlyphs">T=4</text><text x="516" y="357.5" font-size="7" textLength="11" lengthAdjust="spacingAndGlyphs">f=8</text><text x="515" y="445.5" font-size="7" textLength="14" lengthAdjust="spacingAndGlyphs">t=32</text><text x="513" y="532.5" font-size="7" textLength="16" lengthAdjust="spacingAndGlyphs">T=22</text><text x="513" y="619" font-size="7.5" textLength="15" lengthAdjust="spacingAndGlyphs">t=45</text><text x="413" y="679.5" font-size="6" textLength="22" lengthAdjust="spacingAndGlyphs">(a)  x=0</text><text x="602" y="680.5" font-size="6" textLength="25" lengthAdjust="spacingAndGlyphs">(b)  x=0.1</text><text x="396" y="663" font-size="6" textLength="8" lengthAdjust="spacingAndGlyphs">2L</text><text x="589" y="664.5" font-size="6.5" textLength="7" lengthAdjust="spacingAndGlyphs">2L</text><text x="508" y="663" font-size="6">f.</text><text x="529" y="679" font-size="5">x</text></g></svg>
<div id="cap"><div>Figure 2.   Total response amplitude as a function of x, y at specific times to heating symmetric about the</div><div>equator localized in the region |x| < L suddenly switched on at t = 0. Solid lines are contours positive and a</div><div>contour interval 0.1. Dashed lines vertical velocity, w, contour levels ±0.1, ±2(10) (a) ± 2e. The horizontal</div><div>arrows are in the direction of the horizontal velocity, r, the lengths of the arrows proportional to the logarithm</div><div>of (1+(u²+v²)^1/2)   r indicates ascent, w descent. The timescale time is ±00 (b) the damped case</div><div class="l6">(ε = 0.1)</div></div>
</body></html>
